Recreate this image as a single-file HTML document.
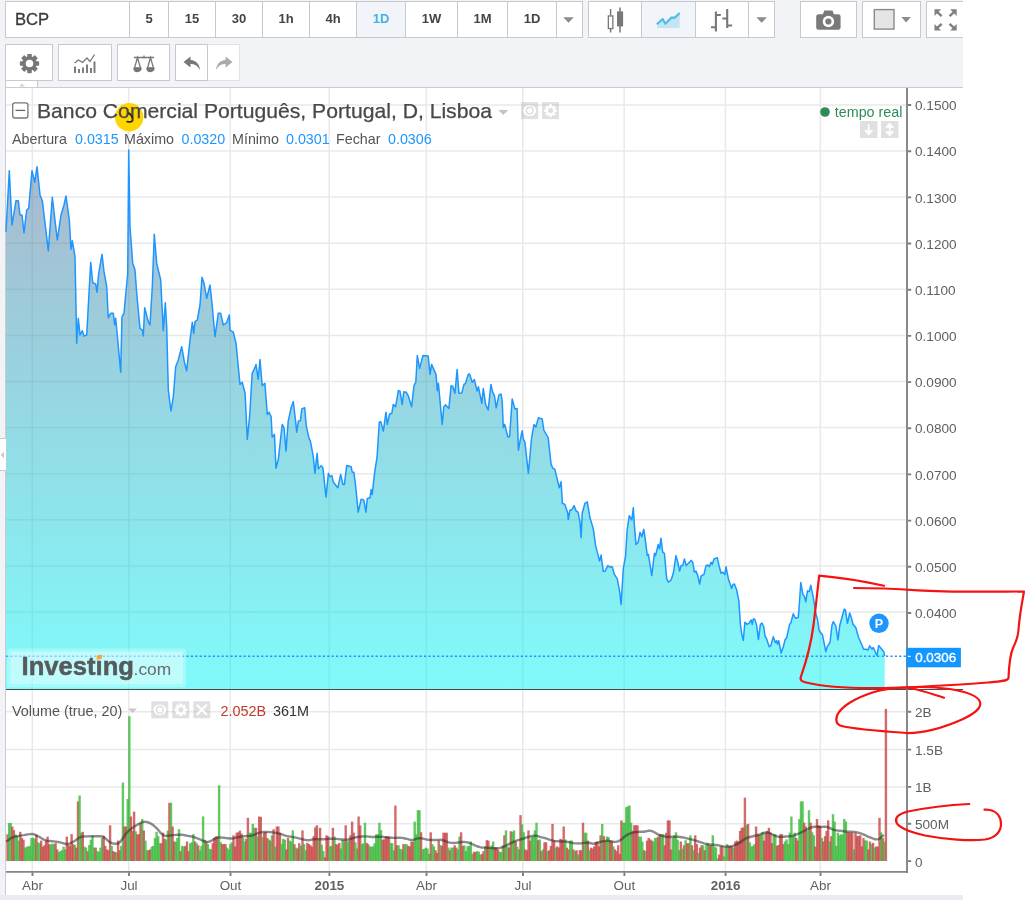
<!DOCTYPE html><html><head><meta charset="utf-8"><title>BCP</title><style>
*{box-sizing:border-box;margin:0;padding:0}
html,body{width:1025px;height:900px;background:#fff;overflow:hidden}
body{font-family:"Liberation Sans", Arial, sans-serif;position:relative;color:#444}
#page{position:absolute;left:0;top:0;width:963px;height:900px;background:#f1f3f7;overflow:hidden}
.box{position:absolute;background:#fff;border:1px solid #c8c9cd;height:37px;top:1px}
.cell{position:absolute;top:0;height:35px;border-left:1px solid #c8c9cd;text-align:center;font-weight:bold;font-size:13px;line-height:33px;color:#444}
.cell.first{border-left:none}
.cell.act{background:#f1f4f8;color:#3db4e6}
.r2{top:44px;height:37px}
#chartbg{position:absolute;left:5px;top:87px;width:958px;height:808px;background:#fff;border-top:1px solid #c9ccd1;border-left:1px solid #c9ccd1}
svg{position:absolute;left:0;top:0}
#main,#page{will-change:transform}
text{font-family:"Liberation Sans", Arial, sans-serif}
</style></head><body>
<div id="page">
<div class="box " style="left:5px;width:578px">
<div class="cell first" style="left:-1px;width:124px"><span style="position:absolute;left:10px;top:1px;font-weight:normal;font-size:16.600px;color:#3a3a3a;-webkit-text-stroke:0.300px #3a3a3a">BCP</span></div>
<div class="cell" style="left:123px;width:39px">5</div>
<div class="cell" style="left:162px;width:47px">15</div>
<div class="cell" style="left:209px;width:47px">30</div>
<div class="cell" style="left:256px;width:47px">1h</div>
<div class="cell" style="left:303px;width:47px">4h</div>
<div class="cell act" style="left:350px;width:49px">1D</div>
<div class="cell" style="left:399px;width:52px">1W</div>
<div class="cell" style="left:451px;width:50px">1M</div>
<div class="cell" style="left:501px;width:49px">1D</div>
<div class="cell" style="left:550px;width:27px"></div>
</div>
<div class="box " style="left:588px;width:187px">
<div class="cell first" style="left:-1px;width:53px"></div>
<div class="cell act" style="left:52px;width:54px"></div>
<div class="cell" style="left:106px;width:53px"></div>
<div class="cell" style="left:159px;width:27px"></div>
</div>
<div class="box " style="left:800px;width:57px">
<div class="cell first" style="left:-1px;width:57px"></div>
</div>
<div class="box " style="left:862px;width:59px">
<div class="cell first" style="left:-1px;width:59px"></div>
</div>
<div class="box " style="left:926px;width:64px">
<div class="cell first" style="left:-1px;width:64px"></div>
</div>
<div class="box r2" style="left:5px;width:48px"><svg width="21" height="21" viewBox="-12 -12 24 24" style="position:absolute;left:12.800px;top:8px"><g fill="#777"><rect x="-2.600" y="-11" width="5.200" height="22" rx="0.800" transform="rotate(0)"/><rect x="-2.600" y="-11" width="5.200" height="22" rx="0.800" transform="rotate(45)"/><rect x="-2.600" y="-11" width="5.200" height="22" rx="0.800" transform="rotate(90)"/><rect x="-2.600" y="-11" width="5.200" height="22" rx="0.800" transform="rotate(135)"/><circle r="8.200"/></g><circle r="4.300" fill="#fff"/></svg></div>
<div class="box r2" style="left:58px;width:54px"><svg width="24" height="22" viewBox="0 0 24 22" style="position:absolute;left:14px;top:8px"><path d="M1.500 10l4-3 4 2.500 4.500-4.500 3 3.500 4.500-7" fill="none" stroke="#777" stroke-width="1.300"/><path d="M2 13.500v6.500M6 16v4M10 14.500v5.500M14 11.500v8.500M18 15v5M21.500 8.500v11.500" stroke="#777" stroke-width="1.900"/></svg></div>
<div class="box r2" style="left:117px;width:53px"><svg width="24" height="20" viewBox="0 0 24 20" style="position:absolute;left:14px;top:9px" fill="none" stroke="#777" stroke-width="1.300"><path d="M2 3.500h20M12 1.500v3"/><path d="M5.500 3.500L2.500 14h6zM18.500 3.500L15.500 14h6z"/><path d="M2 14.500a3.500 3 0 0 0 7 0zM15 14.500a3.500 3 0 0 0 7 0z" fill="#777"/></svg></div>
<div class="box r2" style="left:207px;width:33px;border-color:#e0e2e6"><svg width="18" height="15" viewBox="0 0 18 15" style="position:absolute;left:7px;top:11px"><path d="M10.500 0.500L17.500 6l-7 5.500V8c-4 0-7 1.500-9.500 6 0.500-6 4-9.500 9.500-10z" fill="#aaa"/></svg></div>
<div class="box r2" style="left:175px;width:33px"><svg width="18" height="15" viewBox="0 0 18 15" style="position:absolute;left:7px;top:11px"><path d="M7.500 0.500L0.500 6l7 5.500V8c4 0 7 1.500 9.500 6-0.500-6-4-9.500-9.500-10z" fill="#777"/></svg></div>
<div style="position:absolute;left:5px;top:81px;width:33px;height:7px;background:#fff;border:1px solid #c8c9cd;border-top:none;border-bottom:none"></div>
<div id="chartbg"></div>
<div style="position:absolute;left:0;top:895px;width:963px;height:5px;background:#e9ebf0"></div>
<svg width="38" height="8" style="left:5px;top:81px"><path d="M14 5.500l3-3 3 3z" fill="#d4d4d4"/></svg>
<div style="position:absolute;left:0;top:438px;width:6px;height:33px;background:#fff;border-top:1px solid #c8c9cd;border-bottom:1px solid #c8c9cd"></div>
<svg width="6" height="10" style="left:0;top:450px"><path d="M0.800 5l3.200-3.200v6.400z" fill="#c8c8c8"/></svg>
</div>
<svg id="main" width="1025" height="900" viewBox="0 0 1025 900">
<defs><linearGradient id="ag" x1="0" y1="88" x2="0" y2="689" gradientUnits="userSpaceOnUse"><stop offset="0" stop-color="#606090"/><stop offset="1" stop-color="#01f6f5"/></linearGradient><clipPath id="cm"><rect x="6" y="88" width="901" height="601"/></clipPath></defs>
<path d="M32.3 88V871 M128.8 88V871 M230.3 88V871 M329.2 88V871 M426.3 88V871 M522.8 88V871 M624.2 88V871 M725.4 88V871 M820.3 88V871 M6 104.9H906 M6 151.0H906 M6 197.1H906 M6 243.2H906 M6 289.3H906 M6 335.4H906 M6 381.5H906 M6 427.6H906 M6 473.7H906 M6 519.8H906 M6 566.0H906 M6 612.1H906 M6 711.8H906 M6 749.6H906 M6 786.9H906 M6 823.7H906" stroke="#e9e9e9" stroke-width="1.500" fill="none"/>
<polygon points="6.0,689 6.0,231.7 9.3,170.7 12.0,225.0 16.0,200.7 18.3,200.7 20.0,215.0 22.0,215.0 24.0,232.7 26.7,210.0 28.7,208.3 32.0,170.7 34.7,182.3 37.0,166.7 40.0,195.0 42.3,200.7 48.3,250.7 52.3,197.3 57.3,240.0 61.0,215.0 64.0,205.0 66.0,196.0 69.3,220.0 71.0,249.3 72.3,240.7 75.0,256.7 76.7,343.3 78.3,318.3 80.0,335.0 82.3,330.7 84.0,336.0 86.7,335.0 90.7,262.3 92.7,282.7 95.7,284.0 97.0,292.3 98.7,273.3 102.0,254.3 104.0,271.7 106.7,286.7 108.3,317.7 110.7,313.3 113.3,313.3 114.7,325.0 115.7,318.3 120.7,372.3 122.0,316.7 124.0,313.3 127.7,273.3 128.7,150.0 130.0,226.7 132.7,263.3 135.0,270.0 136.7,293.3 140.0,328.3 142.3,330.0 143.3,336.0 144.7,307.7 148.3,321.7 150.0,325.0 152.3,286.7 154.3,234.3 156.7,263.3 160.7,280.0 163.3,330.7 165.3,302.7 166.7,326.7 168.3,390.0 171.0,411.0 173.3,396.7 175.7,366.7 178.3,360.0 181.7,346.7 184.3,361.7 186.7,370.7 190.0,340.0 192.3,322.3 193.7,333.3 195.0,321.7 197.3,320.0 200.0,305.0 202.0,277.3 204.0,283.3 206.7,298.3 210.0,285.0 212.0,303.3 215.0,336.7 218.3,313.3 220.7,313.3 223.3,325.0 226.7,322.7 229.3,315.0 230.0,330.0 233.3,332.2 236.0,343.3 240.0,384.4 242.2,382.2 245.1,393.3 247.3,439.3 249.6,416.7 252.2,373.3 254.4,368.9 256.0,364.4 258.2,379.3 260.0,359.6 262.2,385.6 264.9,383.3 267.3,414.4 268.9,412.2 271.1,416.7 272.2,437.1 274.4,434.4 276.0,468.2 278.4,458.9 282.2,424.4 284.0,427.8 286.0,451.1 288.2,421.1 291.1,407.8 293.3,401.6 295.6,421.1 296.7,432.2 298.4,421.1 300.4,420.7 301.8,408.9 304.7,407.8 306.2,425.6 308.9,437.8 310.4,441.1 313.3,456.7 314.9,473.3 317.1,453.3 318.4,468.9 321.1,465.6 322.9,467.8 326.0,497.1 328.4,473.3 330.0,476.7 331.8,475.6 333.3,482.2 337.8,487.8 340.7,474.4 342.9,484.4 344.4,484.4 346.7,465.6 351.1,466.7 352.2,472.2 353.8,472.2 355.6,485.6 358.2,512.2 361.1,499.3 363.8,500.0 366.0,512.2 367.3,498.4 370.0,497.8 371.1,489.6 372.2,494.4 374.4,474.4 377.1,456.7 379.3,422.2 380.7,421.6 383.3,431.1 386.0,412.2 387.3,424.4 389.6,414.0 391.8,413.3 393.3,404.4 395.6,406.7 398.4,390.4 400.0,391.1 402.2,404.4 403.8,391.8 406.2,392.2 408.4,396.2 411.6,406.7 414.0,385.6 415.8,382.2 417.3,355.6 419.6,368.4 422.9,355.6 428.2,356.0 430.0,374.4 431.6,364.4 436.0,374.4 437.3,390.7 438.4,383.3 442.2,424.4 443.8,406.7 445.6,404.9 448.9,408.4 451.1,385.6 452.7,386.2 454.9,393.3 457.1,369.6 458.9,393.3 461.8,392.9 464.0,384.4 465.6,383.3 468.2,374.4 469.6,374.0 472.2,382.2 474.4,379.6 477.1,391.1 478.4,386.7 481.8,403.3 483.3,388.4 485.6,404.4 488.2,410.0 490.9,384.4 492.7,392.2 494.4,395.6 496.2,407.8 498.9,395.1 501.1,394.0 502.2,401.1 503.3,427.8 504.7,424.4 507.8,436.7 509.6,436.7 512.2,398.9 514.9,408.9 517.1,408.4 518.4,450.0 520.7,437.8 522.2,430.7 523.3,438.9 524.9,442.2 528.4,473.3 531.6,437.8 534.0,424.4 535.8,427.1 538.4,417.8 542.2,418.9 543.8,430.0 548.2,437.8 551.1,464.4 552.9,468.4 554.9,469.3 559.3,487.8 561.1,481.8 562.4,503.3 564.9,504.4 567.8,513.3 568.2,519.6 570.0,510.0 571.8,510.0 574.0,505.6 576.2,511.1 578.0,512.2 580.0,522.2 581.1,537.8 582.2,513.3 584.9,503.3 587.3,501.8 590.0,517.8 593.3,528.9 595.6,545.6 599.6,561.1 601.1,555.1 603.3,571.6 605.1,571.1 607.8,565.6 610.0,567.1 612.2,566.7 614.4,574.4 617.3,578.9 619.6,591.1 621.1,604.4 623.3,568.9 625.6,555.6 627.1,530.0 629.3,515.6 631.8,520.0 633.3,507.8 634.4,525.6 636.0,544.4 638.2,542.2 640.0,532.2 641.8,536.7 643.8,529.3 645.6,542.2 647.3,555.6 648.4,554.4 651.8,575.6 654.4,553.3 655.6,555.6 658.2,544.4 659.6,548.9 660.9,538.2 662.7,552.2 664.4,553.3 666.7,578.9 668.4,582.2 671.1,580.0 673.3,573.3 676.0,555.6 677.8,562.2 679.6,571.1 681.1,565.6 682.7,565.6 684.4,558.9 686.2,565.6 691.1,560.4 692.7,562.2 694.4,572.2 696.0,571.1 697.8,575.6 699.6,584.0 701.1,576.0 704.0,574.4 706.0,565.6 707.8,564.9 709.3,566.7 711.1,562.2 712.2,564.4 714.0,558.9 717.3,557.8 719.6,567.8 721.1,573.3 722.9,572.2 724.9,574.4 726.0,566.7 728.4,578.9 731.6,588.4 732.9,584.4 734.4,584.0 736.7,590.0 738.9,601.1 740.4,624.4 741.8,634.4 743.3,640.4 744.9,622.2 747.1,624.4 748.9,623.3 751.1,620.0 752.2,624.4 753.3,618.9 754.7,618.9 756.7,625.6 758.4,639.6 760.4,624.4 762.0,623.0 763.7,626.7 765.0,635.8 766.7,639.2 769.2,646.7 770.8,645.8 773.3,636.7 775.3,642.5 776.7,640.8 777.5,644.2 778.7,640.8 781.2,653.0 783.3,646.7 785.0,640.0 786.7,637.5 789.7,624.2 790.8,623.0 793.3,613.7 795.3,618.3 798.3,617.5 799.5,601.7 800.8,582.5 803.0,595.0 804.2,595.8 805.8,601.7 807.5,590.8 809.2,591.7 810.8,585.3 813.3,597.5 815.8,613.3 817.5,619.2 819.2,630.8 822.5,635.0 825.8,651.7 827.2,646.7 830.0,642.5 832.0,625.0 833.3,621.7 835.8,625.8 838.0,640.0 839.7,625.8 841.7,618.3 844.2,609.2 845.3,609.7 847.5,623.3 849.7,613.0 851.3,617.5 853.0,624.2 855.8,627.5 858.3,636.7 860.8,642.5 863.7,649.2 865.8,649.2 868.0,650.0 869.7,645.8 872.0,649.2 873.3,647.5 877.0,655.8 878.7,645.5 881.7,649.2 883.7,651.7 884.7,656.2 884.7,689" fill="url(#ag)" fill-opacity="0.5"/>
<polyline points="6.0,231.7 9.3,170.7 12.0,225.0 16.0,200.7 18.3,200.7 20.0,215.0 22.0,215.0 24.0,232.7 26.7,210.0 28.7,208.3 32.0,170.7 34.7,182.3 37.0,166.7 40.0,195.0 42.3,200.7 48.3,250.7 52.3,197.3 57.3,240.0 61.0,215.0 64.0,205.0 66.0,196.0 69.3,220.0 71.0,249.3 72.3,240.7 75.0,256.7 76.7,343.3 78.3,318.3 80.0,335.0 82.3,330.7 84.0,336.0 86.7,335.0 90.7,262.3 92.7,282.7 95.7,284.0 97.0,292.3 98.7,273.3 102.0,254.3 104.0,271.7 106.7,286.7 108.3,317.7 110.7,313.3 113.3,313.3 114.7,325.0 115.7,318.3 120.7,372.3 122.0,316.7 124.0,313.3 127.7,273.3 128.7,150.0 130.0,226.7 132.7,263.3 135.0,270.0 136.7,293.3 140.0,328.3 142.3,330.0 143.3,336.0 144.7,307.7 148.3,321.7 150.0,325.0 152.3,286.7 154.3,234.3 156.7,263.3 160.7,280.0 163.3,330.7 165.3,302.7 166.7,326.7 168.3,390.0 171.0,411.0 173.3,396.7 175.7,366.7 178.3,360.0 181.7,346.7 184.3,361.7 186.7,370.7 190.0,340.0 192.3,322.3 193.7,333.3 195.0,321.7 197.3,320.0 200.0,305.0 202.0,277.3 204.0,283.3 206.7,298.3 210.0,285.0 212.0,303.3 215.0,336.7 218.3,313.3 220.7,313.3 223.3,325.0 226.7,322.7 229.3,315.0 230.0,330.0 233.3,332.2 236.0,343.3 240.0,384.4 242.2,382.2 245.1,393.3 247.3,439.3 249.6,416.7 252.2,373.3 254.4,368.9 256.0,364.4 258.2,379.3 260.0,359.6 262.2,385.6 264.9,383.3 267.3,414.4 268.9,412.2 271.1,416.7 272.2,437.1 274.4,434.4 276.0,468.2 278.4,458.9 282.2,424.4 284.0,427.8 286.0,451.1 288.2,421.1 291.1,407.8 293.3,401.6 295.6,421.1 296.7,432.2 298.4,421.1 300.4,420.7 301.8,408.9 304.7,407.8 306.2,425.6 308.9,437.8 310.4,441.1 313.3,456.7 314.9,473.3 317.1,453.3 318.4,468.9 321.1,465.6 322.9,467.8 326.0,497.1 328.4,473.3 330.0,476.7 331.8,475.6 333.3,482.2 337.8,487.8 340.7,474.4 342.9,484.4 344.4,484.4 346.7,465.6 351.1,466.7 352.2,472.2 353.8,472.2 355.6,485.6 358.2,512.2 361.1,499.3 363.8,500.0 366.0,512.2 367.3,498.4 370.0,497.8 371.1,489.6 372.2,494.4 374.4,474.4 377.1,456.7 379.3,422.2 380.7,421.6 383.3,431.1 386.0,412.2 387.3,424.4 389.6,414.0 391.8,413.3 393.3,404.4 395.6,406.7 398.4,390.4 400.0,391.1 402.2,404.4 403.8,391.8 406.2,392.2 408.4,396.2 411.6,406.7 414.0,385.6 415.8,382.2 417.3,355.6 419.6,368.4 422.9,355.6 428.2,356.0 430.0,374.4 431.6,364.4 436.0,374.4 437.3,390.7 438.4,383.3 442.2,424.4 443.8,406.7 445.6,404.9 448.9,408.4 451.1,385.6 452.7,386.2 454.9,393.3 457.1,369.6 458.9,393.3 461.8,392.9 464.0,384.4 465.6,383.3 468.2,374.4 469.6,374.0 472.2,382.2 474.4,379.6 477.1,391.1 478.4,386.7 481.8,403.3 483.3,388.4 485.6,404.4 488.2,410.0 490.9,384.4 492.7,392.2 494.4,395.6 496.2,407.8 498.9,395.1 501.1,394.0 502.2,401.1 503.3,427.8 504.7,424.4 507.8,436.7 509.6,436.7 512.2,398.9 514.9,408.9 517.1,408.4 518.4,450.0 520.7,437.8 522.2,430.7 523.3,438.9 524.9,442.2 528.4,473.3 531.6,437.8 534.0,424.4 535.8,427.1 538.4,417.8 542.2,418.9 543.8,430.0 548.2,437.8 551.1,464.4 552.9,468.4 554.9,469.3 559.3,487.8 561.1,481.8 562.4,503.3 564.9,504.4 567.8,513.3 568.2,519.6 570.0,510.0 571.8,510.0 574.0,505.6 576.2,511.1 578.0,512.2 580.0,522.2 581.1,537.8 582.2,513.3 584.9,503.3 587.3,501.8 590.0,517.8 593.3,528.9 595.6,545.6 599.6,561.1 601.1,555.1 603.3,571.6 605.1,571.1 607.8,565.6 610.0,567.1 612.2,566.7 614.4,574.4 617.3,578.9 619.6,591.1 621.1,604.4 623.3,568.9 625.6,555.6 627.1,530.0 629.3,515.6 631.8,520.0 633.3,507.8 634.4,525.6 636.0,544.4 638.2,542.2 640.0,532.2 641.8,536.7 643.8,529.3 645.6,542.2 647.3,555.6 648.4,554.4 651.8,575.6 654.4,553.3 655.6,555.6 658.2,544.4 659.6,548.9 660.9,538.2 662.7,552.2 664.4,553.3 666.7,578.9 668.4,582.2 671.1,580.0 673.3,573.3 676.0,555.6 677.8,562.2 679.6,571.1 681.1,565.6 682.7,565.6 684.4,558.9 686.2,565.6 691.1,560.4 692.7,562.2 694.4,572.2 696.0,571.1 697.8,575.6 699.6,584.0 701.1,576.0 704.0,574.4 706.0,565.6 707.8,564.9 709.3,566.7 711.1,562.2 712.2,564.4 714.0,558.9 717.3,557.8 719.6,567.8 721.1,573.3 722.9,572.2 724.9,574.4 726.0,566.7 728.4,578.9 731.6,588.4 732.9,584.4 734.4,584.0 736.7,590.0 738.9,601.1 740.4,624.4 741.8,634.4 743.3,640.4 744.9,622.2 747.1,624.4 748.9,623.3 751.1,620.0 752.2,624.4 753.3,618.9 754.7,618.9 756.7,625.6 758.4,639.6 760.4,624.4 762.0,623.0 763.7,626.7 765.0,635.8 766.7,639.2 769.2,646.7 770.8,645.8 773.3,636.7 775.3,642.5 776.7,640.8 777.5,644.2 778.7,640.8 781.2,653.0 783.3,646.7 785.0,640.0 786.7,637.5 789.7,624.2 790.8,623.0 793.3,613.7 795.3,618.3 798.3,617.5 799.5,601.7 800.8,582.5 803.0,595.0 804.2,595.8 805.8,601.7 807.5,590.8 809.2,591.7 810.8,585.3 813.3,597.5 815.8,613.3 817.5,619.2 819.2,630.8 822.5,635.0 825.8,651.7 827.2,646.7 830.0,642.5 832.0,625.0 833.3,621.7 835.8,625.8 838.0,640.0 839.7,625.8 841.7,618.3 844.2,609.2 845.3,609.7 847.5,623.3 849.7,613.0 851.3,617.5 853.0,624.2 855.8,627.5 858.3,636.7 860.8,642.5 863.7,649.2 865.8,649.2 868.0,650.0 869.7,645.8 872.0,649.2 873.3,647.5 877.0,655.8 878.7,645.5 881.7,649.2 883.7,651.7 884.7,656.2" fill="none" stroke="#1e96ff" stroke-width="1.500" stroke-linejoin="round"/>
<path d="M6 656.300H907" stroke="#1e96ff" stroke-width="1.400" stroke-dasharray="2.200 2.200" fill="none"/>
<rect x="7" y="648.500" width="179" height="39" rx="3" fill="#fff" fill-opacity="0.280"/>
<rect x="10.500" y="651.500" width="172.500" height="32.500" rx="1" fill="#fff" fill-opacity="0.300"/>
<text x="21.600" y="675.300" font-size="25.600" font-weight="bold" fill="#565a5c" stroke="#565a5c" stroke-width="0.550" textLength="112.400" lengthAdjust="spacingAndGlyphs">Investing</text>
<text x="133.600" y="675.300" font-size="17.200" fill="#666c6e" textLength="37.600" lengthAdjust="spacingAndGlyphs">.com</text>
<path d="M96.700 655.900L101.900 654.200V658.700L96.700 659.900z" fill="#f4a83a"/>
<rect x="6.3" y="834.4" width="2.400" height="26.6" fill="#c84646" fill-opacity="0.800"/>
<rect x="7.9" y="823.0" width="2.400" height="38.0" fill="#3cb93c" fill-opacity="0.800"/>
<rect x="9.5" y="823.0" width="2.400" height="38.0" fill="#3cb93c" fill-opacity="0.800"/>
<rect x="11.1" y="826.5" width="2.400" height="34.5" fill="#c84646" fill-opacity="0.800"/>
<rect x="12.7" y="830.1" width="2.400" height="30.9" fill="#c84646" fill-opacity="0.800"/>
<rect x="14.3" y="834.4" width="2.400" height="26.6" fill="#3cb93c" fill-opacity="0.800"/>
<rect x="15.9" y="835.8" width="2.400" height="25.2" fill="#3cb93c" fill-opacity="0.800"/>
<rect x="17.5" y="840.6" width="2.400" height="20.4" fill="#3cb93c" fill-opacity="0.800"/>
<rect x="19.1" y="831.8" width="2.400" height="29.2" fill="#c84646" fill-opacity="0.800"/>
<rect x="20.7" y="838.0" width="2.400" height="23.0" fill="#c84646" fill-opacity="0.800"/>
<rect x="22.3" y="839.7" width="2.400" height="21.3" fill="#c84646" fill-opacity="0.800"/>
<rect x="23.9" y="847.6" width="2.400" height="13.4" fill="#3cb93c" fill-opacity="0.800"/>
<rect x="25.5" y="846.7" width="2.400" height="14.3" fill="#3cb93c" fill-opacity="0.800"/>
<rect x="27.1" y="846.4" width="2.400" height="14.6" fill="#3cb93c" fill-opacity="0.800"/>
<rect x="28.7" y="845.9" width="2.400" height="15.1" fill="#3cb93c" fill-opacity="0.800"/>
<rect x="30.3" y="838.0" width="2.400" height="23.0" fill="#3cb93c" fill-opacity="0.800"/>
<rect x="31.9" y="837.6" width="2.400" height="23.4" fill="#3cb93c" fill-opacity="0.800"/>
<rect x="33.6" y="838.8" width="2.400" height="22.2" fill="#3cb93c" fill-opacity="0.800"/>
<rect x="35.2" y="834.8" width="2.400" height="26.2" fill="#c84646" fill-opacity="0.800"/>
<rect x="36.8" y="842.3" width="2.400" height="18.7" fill="#3cb93c" fill-opacity="0.800"/>
<rect x="38.4" y="843.2" width="2.400" height="17.8" fill="#3cb93c" fill-opacity="0.800"/>
<rect x="40.0" y="840.6" width="2.400" height="20.4" fill="#c84646" fill-opacity="0.800"/>
<rect x="41.6" y="846.7" width="2.400" height="14.3" fill="#c84646" fill-opacity="0.800"/>
<rect x="43.2" y="845.3" width="2.400" height="15.7" fill="#c84646" fill-opacity="0.800"/>
<rect x="44.8" y="840.6" width="2.400" height="20.4" fill="#c84646" fill-opacity="0.800"/>
<rect x="46.4" y="836.6" width="2.400" height="24.4" fill="#c84646" fill-opacity="0.800"/>
<rect x="48.0" y="844.1" width="2.400" height="16.9" fill="#c84646" fill-opacity="0.800"/>
<rect x="49.6" y="844.6" width="2.400" height="16.4" fill="#3cb93c" fill-opacity="0.800"/>
<rect x="51.2" y="843.6" width="2.400" height="17.4" fill="#3cb93c" fill-opacity="0.800"/>
<rect x="52.8" y="844.1" width="2.400" height="16.9" fill="#3cb93c" fill-opacity="0.800"/>
<rect x="54.4" y="843.2" width="2.400" height="17.8" fill="#c84646" fill-opacity="0.800"/>
<rect x="56.0" y="849.4" width="2.400" height="11.6" fill="#c84646" fill-opacity="0.800"/>
<rect x="57.6" y="852.0" width="2.400" height="9.0" fill="#3cb93c" fill-opacity="0.800"/>
<rect x="59.2" y="851.1" width="2.400" height="9.9" fill="#3cb93c" fill-opacity="0.800"/>
<rect x="60.8" y="850.2" width="2.400" height="10.8" fill="#3cb93c" fill-opacity="0.800"/>
<rect x="62.4" y="846.7" width="2.400" height="14.3" fill="#3cb93c" fill-opacity="0.800"/>
<rect x="64.0" y="849.4" width="2.400" height="11.6" fill="#3cb93c" fill-opacity="0.800"/>
<rect x="65.6" y="836.6" width="2.400" height="24.4" fill="#c84646" fill-opacity="0.800"/>
<rect x="67.2" y="845.0" width="2.400" height="16.0" fill="#c84646" fill-opacity="0.800"/>
<rect x="68.8" y="845.9" width="2.400" height="15.1" fill="#c84646" fill-opacity="0.800"/>
<rect x="70.4" y="834.1" width="2.400" height="26.9" fill="#c84646" fill-opacity="0.800"/>
<rect x="72.0" y="844.1" width="2.400" height="16.9" fill="#c84646" fill-opacity="0.800"/>
<rect x="73.6" y="845.0" width="2.400" height="16.0" fill="#3cb93c" fill-opacity="0.800"/>
<rect x="75.2" y="847.6" width="2.400" height="13.4" fill="#c84646" fill-opacity="0.800"/>
<rect x="76.8" y="801.4" width="2.400" height="59.6" fill="#c84646" fill-opacity="0.800"/>
<rect x="78.4" y="795.5" width="2.400" height="65.5" fill="#3cb93c" fill-opacity="0.800"/>
<rect x="80.0" y="832.7" width="2.400" height="28.3" fill="#3cb93c" fill-opacity="0.800"/>
<rect x="81.6" y="831.8" width="2.400" height="29.2" fill="#c84646" fill-opacity="0.800"/>
<rect x="83.2" y="846.7" width="2.400" height="14.3" fill="#3cb93c" fill-opacity="0.800"/>
<rect x="84.8" y="847.6" width="2.400" height="13.4" fill="#3cb93c" fill-opacity="0.800"/>
<rect x="86.5" y="851.1" width="2.400" height="9.9" fill="#c84646" fill-opacity="0.800"/>
<rect x="88.1" y="845.0" width="2.400" height="16.0" fill="#3cb93c" fill-opacity="0.800"/>
<rect x="89.7" y="839.7" width="2.400" height="21.3" fill="#3cb93c" fill-opacity="0.800"/>
<rect x="91.3" y="835.8" width="2.400" height="25.2" fill="#3cb93c" fill-opacity="0.800"/>
<rect x="92.9" y="847.6" width="2.400" height="13.4" fill="#3cb93c" fill-opacity="0.800"/>
<rect x="94.5" y="847.6" width="2.400" height="13.4" fill="#c84646" fill-opacity="0.800"/>
<rect x="96.1" y="851.1" width="2.400" height="9.9" fill="#3cb93c" fill-opacity="0.800"/>
<rect x="97.7" y="851.7" width="2.400" height="9.3" fill="#3cb93c" fill-opacity="0.800"/>
<rect x="99.3" y="847.6" width="2.400" height="13.4" fill="#3cb93c" fill-opacity="0.800"/>
<rect x="100.9" y="838.0" width="2.400" height="23.0" fill="#3cb93c" fill-opacity="0.800"/>
<rect x="102.5" y="835.8" width="2.400" height="25.2" fill="#c84646" fill-opacity="0.800"/>
<rect x="104.1" y="845.9" width="2.400" height="15.1" fill="#c84646" fill-opacity="0.800"/>
<rect x="105.7" y="849.4" width="2.400" height="11.6" fill="#c84646" fill-opacity="0.800"/>
<rect x="107.3" y="850.2" width="2.400" height="10.8" fill="#c84646" fill-opacity="0.800"/>
<rect x="108.9" y="825.3" width="2.400" height="35.7" fill="#c84646" fill-opacity="0.800"/>
<rect x="110.5" y="845.9" width="2.400" height="15.1" fill="#3cb93c" fill-opacity="0.800"/>
<rect x="112.1" y="851.1" width="2.400" height="9.9" fill="#c84646" fill-opacity="0.800"/>
<rect x="113.7" y="852.0" width="2.400" height="9.0" fill="#c84646" fill-opacity="0.800"/>
<rect x="115.3" y="852.4" width="2.400" height="8.6" fill="#3cb93c" fill-opacity="0.800"/>
<rect x="116.9" y="840.6" width="2.400" height="20.4" fill="#c84646" fill-opacity="0.800"/>
<rect x="118.5" y="850.2" width="2.400" height="10.8" fill="#c84646" fill-opacity="0.800"/>
<rect x="120.1" y="845.9" width="2.400" height="15.1" fill="#3cb93c" fill-opacity="0.800"/>
<rect x="121.7" y="782.6" width="2.400" height="78.4" fill="#3cb93c" fill-opacity="0.800"/>
<rect x="123.3" y="826.5" width="2.400" height="34.5" fill="#c84646" fill-opacity="0.800"/>
<rect x="124.9" y="826.5" width="2.400" height="34.5" fill="#c84646" fill-opacity="0.800"/>
<rect x="126.5" y="799.0" width="2.400" height="62.0" fill="#3cb93c" fill-opacity="0.800"/>
<rect x="128.1" y="716.2" width="2.400" height="144.8" fill="#3cb93c" fill-opacity="0.800"/>
<rect x="129.7" y="816.5" width="2.400" height="44.5" fill="#c84646" fill-opacity="0.800"/>
<rect x="131.3" y="830.9" width="2.400" height="30.1" fill="#c84646" fill-opacity="0.800"/>
<rect x="132.9" y="811.6" width="2.400" height="49.4" fill="#c84646" fill-opacity="0.800"/>
<rect x="134.5" y="831.3" width="2.400" height="29.7" fill="#3cb93c" fill-opacity="0.800"/>
<rect x="136.1" y="834.4" width="2.400" height="26.6" fill="#c84646" fill-opacity="0.800"/>
<rect x="137.7" y="834.1" width="2.400" height="26.9" fill="#c84646" fill-opacity="0.800"/>
<rect x="139.3" y="823.0" width="2.400" height="38.0" fill="#c84646" fill-opacity="0.800"/>
<rect x="141.0" y="819.0" width="2.400" height="42.0" fill="#3cb93c" fill-opacity="0.800"/>
<rect x="142.6" y="830.4" width="2.400" height="30.6" fill="#c84646" fill-opacity="0.800"/>
<rect x="144.2" y="840.6" width="2.400" height="20.4" fill="#3cb93c" fill-opacity="0.800"/>
<rect x="145.8" y="850.2" width="2.400" height="10.8" fill="#3cb93c" fill-opacity="0.800"/>
<rect x="147.4" y="850.2" width="2.400" height="10.8" fill="#c84646" fill-opacity="0.800"/>
<rect x="149.0" y="849.4" width="2.400" height="11.6" fill="#c84646" fill-opacity="0.800"/>
<rect x="150.6" y="846.7" width="2.400" height="14.3" fill="#3cb93c" fill-opacity="0.800"/>
<rect x="152.2" y="845.9" width="2.400" height="15.1" fill="#3cb93c" fill-opacity="0.800"/>
<rect x="153.8" y="838.0" width="2.400" height="23.0" fill="#3cb93c" fill-opacity="0.800"/>
<rect x="155.4" y="831.8" width="2.400" height="29.2" fill="#3cb93c" fill-opacity="0.800"/>
<rect x="157.0" y="836.2" width="2.400" height="24.8" fill="#3cb93c" fill-opacity="0.800"/>
<rect x="158.6" y="843.2" width="2.400" height="17.8" fill="#3cb93c" fill-opacity="0.800"/>
<rect x="160.2" y="843.2" width="2.400" height="17.8" fill="#c84646" fill-opacity="0.800"/>
<rect x="161.8" y="832.7" width="2.400" height="28.3" fill="#c84646" fill-opacity="0.800"/>
<rect x="163.4" y="838.8" width="2.400" height="22.2" fill="#c84646" fill-opacity="0.800"/>
<rect x="165.0" y="839.7" width="2.400" height="21.3" fill="#3cb93c" fill-opacity="0.800"/>
<rect x="166.6" y="830.6" width="2.400" height="30.4" fill="#3cb93c" fill-opacity="0.800"/>
<rect x="168.2" y="802.8" width="2.400" height="58.2" fill="#c84646" fill-opacity="0.800"/>
<rect x="169.8" y="802.8" width="2.400" height="58.2" fill="#3cb93c" fill-opacity="0.800"/>
<rect x="171.4" y="826.5" width="2.400" height="34.5" fill="#c84646" fill-opacity="0.800"/>
<rect x="173.0" y="841.5" width="2.400" height="19.5" fill="#c84646" fill-opacity="0.800"/>
<rect x="174.6" y="841.8" width="2.400" height="19.2" fill="#3cb93c" fill-opacity="0.800"/>
<rect x="176.2" y="838.0" width="2.400" height="23.0" fill="#3cb93c" fill-opacity="0.800"/>
<rect x="177.8" y="829.2" width="2.400" height="31.8" fill="#3cb93c" fill-opacity="0.800"/>
<rect x="179.4" y="851.1" width="2.400" height="9.9" fill="#c84646" fill-opacity="0.800"/>
<rect x="181.0" y="845.9" width="2.400" height="15.1" fill="#3cb93c" fill-opacity="0.800"/>
<rect x="182.6" y="846.7" width="2.400" height="14.3" fill="#3cb93c" fill-opacity="0.800"/>
<rect x="184.2" y="845.9" width="2.400" height="15.1" fill="#c84646" fill-opacity="0.800"/>
<rect x="185.8" y="841.5" width="2.400" height="19.5" fill="#c84646" fill-opacity="0.800"/>
<rect x="187.4" y="851.1" width="2.400" height="9.9" fill="#c84646" fill-opacity="0.800"/>
<rect x="189.0" y="843.2" width="2.400" height="17.8" fill="#3cb93c" fill-opacity="0.800"/>
<rect x="190.6" y="842.3" width="2.400" height="18.7" fill="#3cb93c" fill-opacity="0.800"/>
<rect x="192.2" y="834.1" width="2.400" height="26.9" fill="#3cb93c" fill-opacity="0.800"/>
<rect x="193.9" y="841.5" width="2.400" height="19.5" fill="#c84646" fill-opacity="0.800"/>
<rect x="195.5" y="843.2" width="2.400" height="17.8" fill="#3cb93c" fill-opacity="0.800"/>
<rect x="197.1" y="845.3" width="2.400" height="15.7" fill="#c84646" fill-opacity="0.800"/>
<rect x="198.7" y="850.2" width="2.400" height="10.8" fill="#3cb93c" fill-opacity="0.800"/>
<rect x="200.3" y="845.9" width="2.400" height="15.1" fill="#3cb93c" fill-opacity="0.800"/>
<rect x="201.9" y="816.4" width="2.400" height="44.6" fill="#3cb93c" fill-opacity="0.800"/>
<rect x="203.5" y="839.7" width="2.400" height="21.3" fill="#3cb93c" fill-opacity="0.800"/>
<rect x="205.1" y="841.8" width="2.400" height="19.2" fill="#c84646" fill-opacity="0.800"/>
<rect x="206.7" y="844.1" width="2.400" height="16.9" fill="#3cb93c" fill-opacity="0.800"/>
<rect x="208.3" y="848.8" width="2.400" height="12.2" fill="#3cb93c" fill-opacity="0.800"/>
<rect x="209.9" y="849.4" width="2.400" height="11.6" fill="#3cb93c" fill-opacity="0.800"/>
<rect x="211.5" y="843.2" width="2.400" height="17.8" fill="#c84646" fill-opacity="0.800"/>
<rect x="213.1" y="838.0" width="2.400" height="23.0" fill="#c84646" fill-opacity="0.800"/>
<rect x="214.7" y="836.6" width="2.400" height="24.4" fill="#c84646" fill-opacity="0.800"/>
<rect x="216.3" y="836.6" width="2.400" height="24.4" fill="#c84646" fill-opacity="0.800"/>
<rect x="217.9" y="785.3" width="2.400" height="75.7" fill="#3cb93c" fill-opacity="0.800"/>
<rect x="219.5" y="842.3" width="2.400" height="18.7" fill="#3cb93c" fill-opacity="0.800"/>
<rect x="221.1" y="844.1" width="2.400" height="16.9" fill="#c84646" fill-opacity="0.800"/>
<rect x="222.7" y="844.1" width="2.400" height="16.9" fill="#c84646" fill-opacity="0.800"/>
<rect x="224.3" y="844.1" width="2.400" height="16.9" fill="#c84646" fill-opacity="0.800"/>
<rect x="225.9" y="847.6" width="2.400" height="13.4" fill="#3cb93c" fill-opacity="0.800"/>
<rect x="227.5" y="849.4" width="2.400" height="11.6" fill="#3cb93c" fill-opacity="0.800"/>
<rect x="229.1" y="844.1" width="2.400" height="16.9" fill="#3cb93c" fill-opacity="0.800"/>
<rect x="230.7" y="842.3" width="2.400" height="18.7" fill="#3cb93c" fill-opacity="0.800"/>
<rect x="232.3" y="835.3" width="2.400" height="25.7" fill="#c84646" fill-opacity="0.800"/>
<rect x="233.9" y="846.4" width="2.400" height="14.6" fill="#c84646" fill-opacity="0.800"/>
<rect x="235.5" y="832.7" width="2.400" height="28.3" fill="#c84646" fill-opacity="0.800"/>
<rect x="237.1" y="832.3" width="2.400" height="28.7" fill="#c84646" fill-opacity="0.800"/>
<rect x="238.7" y="830.6" width="2.400" height="30.4" fill="#c84646" fill-opacity="0.800"/>
<rect x="240.3" y="833.6" width="2.400" height="27.4" fill="#c84646" fill-opacity="0.800"/>
<rect x="241.9" y="838.0" width="2.400" height="23.0" fill="#3cb93c" fill-opacity="0.800"/>
<rect x="243.5" y="841.5" width="2.400" height="19.5" fill="#3cb93c" fill-opacity="0.800"/>
<rect x="245.1" y="838.8" width="2.400" height="22.2" fill="#c84646" fill-opacity="0.800"/>
<rect x="246.7" y="817.8" width="2.400" height="43.2" fill="#c84646" fill-opacity="0.800"/>
<rect x="248.4" y="832.7" width="2.400" height="28.3" fill="#3cb93c" fill-opacity="0.800"/>
<rect x="250.0" y="832.7" width="2.400" height="28.3" fill="#3cb93c" fill-opacity="0.800"/>
<rect x="251.6" y="823.9" width="2.400" height="37.1" fill="#3cb93c" fill-opacity="0.800"/>
<rect x="253.2" y="827.8" width="2.400" height="33.2" fill="#3cb93c" fill-opacity="0.800"/>
<rect x="254.8" y="827.8" width="2.400" height="33.2" fill="#c84646" fill-opacity="0.800"/>
<rect x="256.4" y="836.2" width="2.400" height="24.8" fill="#3cb93c" fill-opacity="0.800"/>
<rect x="258.0" y="816.5" width="2.400" height="44.5" fill="#c84646" fill-opacity="0.800"/>
<rect x="259.6" y="816.9" width="2.400" height="44.1" fill="#c84646" fill-opacity="0.800"/>
<rect x="261.2" y="837.1" width="2.400" height="23.9" fill="#3cb93c" fill-opacity="0.800"/>
<rect x="262.8" y="832.7" width="2.400" height="28.3" fill="#c84646" fill-opacity="0.800"/>
<rect x="264.4" y="831.8" width="2.400" height="29.2" fill="#c84646" fill-opacity="0.800"/>
<rect x="266.0" y="838.0" width="2.400" height="23.0" fill="#c84646" fill-opacity="0.800"/>
<rect x="267.6" y="839.4" width="2.400" height="21.6" fill="#3cb93c" fill-opacity="0.800"/>
<rect x="269.2" y="840.6" width="2.400" height="20.4" fill="#c84646" fill-opacity="0.800"/>
<rect x="270.8" y="835.3" width="2.400" height="25.7" fill="#3cb93c" fill-opacity="0.800"/>
<rect x="272.4" y="829.2" width="2.400" height="31.8" fill="#c84646" fill-opacity="0.800"/>
<rect x="274.0" y="846.7" width="2.400" height="14.3" fill="#3cb93c" fill-opacity="0.800"/>
<rect x="275.6" y="826.5" width="2.400" height="34.5" fill="#c84646" fill-opacity="0.800"/>
<rect x="277.2" y="826.5" width="2.400" height="34.5" fill="#c84646" fill-opacity="0.800"/>
<rect x="278.8" y="832.7" width="2.400" height="28.3" fill="#c84646" fill-opacity="0.800"/>
<rect x="280.4" y="844.1" width="2.400" height="16.9" fill="#3cb93c" fill-opacity="0.800"/>
<rect x="282.0" y="838.8" width="2.400" height="22.2" fill="#3cb93c" fill-opacity="0.800"/>
<rect x="283.6" y="839.7" width="2.400" height="21.3" fill="#3cb93c" fill-opacity="0.800"/>
<rect x="285.2" y="849.4" width="2.400" height="11.6" fill="#c84646" fill-opacity="0.800"/>
<rect x="286.8" y="838.0" width="2.400" height="23.0" fill="#c84646" fill-opacity="0.800"/>
<rect x="288.4" y="840.6" width="2.400" height="20.4" fill="#3cb93c" fill-opacity="0.800"/>
<rect x="290.0" y="841.5" width="2.400" height="19.5" fill="#3cb93c" fill-opacity="0.800"/>
<rect x="291.6" y="830.4" width="2.400" height="30.6" fill="#3cb93c" fill-opacity="0.800"/>
<rect x="293.2" y="844.1" width="2.400" height="16.9" fill="#c84646" fill-opacity="0.800"/>
<rect x="294.8" y="847.6" width="2.400" height="13.4" fill="#3cb93c" fill-opacity="0.800"/>
<rect x="296.4" y="848.5" width="2.400" height="12.5" fill="#c84646" fill-opacity="0.800"/>
<rect x="298.0" y="843.2" width="2.400" height="17.8" fill="#c84646" fill-opacity="0.800"/>
<rect x="299.6" y="845.9" width="2.400" height="15.1" fill="#3cb93c" fill-opacity="0.800"/>
<rect x="301.3" y="830.4" width="2.400" height="30.6" fill="#c84646" fill-opacity="0.800"/>
<rect x="302.9" y="844.1" width="2.400" height="16.9" fill="#3cb93c" fill-opacity="0.800"/>
<rect x="304.5" y="850.2" width="2.400" height="10.8" fill="#3cb93c" fill-opacity="0.800"/>
<rect x="306.1" y="842.9" width="2.400" height="18.1" fill="#c84646" fill-opacity="0.800"/>
<rect x="307.7" y="844.1" width="2.400" height="16.9" fill="#c84646" fill-opacity="0.800"/>
<rect x="309.3" y="845.3" width="2.400" height="15.7" fill="#c84646" fill-opacity="0.800"/>
<rect x="310.9" y="846.7" width="2.400" height="14.3" fill="#c84646" fill-opacity="0.800"/>
<rect x="312.5" y="836.2" width="2.400" height="24.8" fill="#c84646" fill-opacity="0.800"/>
<rect x="314.1" y="827.4" width="2.400" height="33.6" fill="#c84646" fill-opacity="0.800"/>
<rect x="315.7" y="825.3" width="2.400" height="35.7" fill="#c84646" fill-opacity="0.800"/>
<rect x="317.3" y="839.7" width="2.400" height="21.3" fill="#3cb93c" fill-opacity="0.800"/>
<rect x="318.9" y="827.8" width="2.400" height="33.2" fill="#c84646" fill-opacity="0.800"/>
<rect x="320.5" y="844.6" width="2.400" height="16.4" fill="#3cb93c" fill-opacity="0.800"/>
<rect x="322.1" y="851.1" width="2.400" height="9.9" fill="#3cb93c" fill-opacity="0.800"/>
<rect x="323.7" y="857.3" width="2.400" height="3.7" fill="#c84646" fill-opacity="0.800"/>
<rect x="325.3" y="835.3" width="2.400" height="25.7" fill="#c84646" fill-opacity="0.800"/>
<rect x="326.9" y="836.2" width="2.400" height="24.8" fill="#c84646" fill-opacity="0.800"/>
<rect x="328.5" y="846.4" width="2.400" height="14.6" fill="#3cb93c" fill-opacity="0.800"/>
<rect x="330.1" y="845.9" width="2.400" height="15.1" fill="#3cb93c" fill-opacity="0.800"/>
<rect x="331.7" y="827.8" width="2.400" height="33.2" fill="#c84646" fill-opacity="0.800"/>
<rect x="333.3" y="836.6" width="2.400" height="24.4" fill="#3cb93c" fill-opacity="0.800"/>
<rect x="334.9" y="844.1" width="2.400" height="16.9" fill="#c84646" fill-opacity="0.800"/>
<rect x="336.5" y="844.6" width="2.400" height="16.4" fill="#c84646" fill-opacity="0.800"/>
<rect x="338.1" y="842.9" width="2.400" height="18.1" fill="#c84646" fill-opacity="0.800"/>
<rect x="339.7" y="848.5" width="2.400" height="12.5" fill="#3cb93c" fill-opacity="0.800"/>
<rect x="341.3" y="839.7" width="2.400" height="21.3" fill="#3cb93c" fill-opacity="0.800"/>
<rect x="342.9" y="840.6" width="2.400" height="20.4" fill="#3cb93c" fill-opacity="0.800"/>
<rect x="344.5" y="825.3" width="2.400" height="35.7" fill="#c84646" fill-opacity="0.800"/>
<rect x="346.1" y="841.5" width="2.400" height="19.5" fill="#3cb93c" fill-opacity="0.800"/>
<rect x="347.7" y="840.6" width="2.400" height="20.4" fill="#3cb93c" fill-opacity="0.800"/>
<rect x="349.3" y="835.3" width="2.400" height="25.7" fill="#c84646" fill-opacity="0.800"/>
<rect x="350.9" y="821.6" width="2.400" height="39.4" fill="#c84646" fill-opacity="0.800"/>
<rect x="352.5" y="832.7" width="2.400" height="28.3" fill="#c84646" fill-opacity="0.800"/>
<rect x="354.2" y="842.3" width="2.400" height="18.7" fill="#3cb93c" fill-opacity="0.800"/>
<rect x="355.8" y="848.5" width="2.400" height="12.5" fill="#3cb93c" fill-opacity="0.800"/>
<rect x="357.4" y="816.5" width="2.400" height="44.5" fill="#c84646" fill-opacity="0.800"/>
<rect x="359.0" y="825.3" width="2.400" height="35.7" fill="#c84646" fill-opacity="0.800"/>
<rect x="360.6" y="844.1" width="2.400" height="16.9" fill="#3cb93c" fill-opacity="0.800"/>
<rect x="362.2" y="843.2" width="2.400" height="17.8" fill="#3cb93c" fill-opacity="0.800"/>
<rect x="363.8" y="822.7" width="2.400" height="38.3" fill="#3cb93c" fill-opacity="0.800"/>
<rect x="365.4" y="842.9" width="2.400" height="18.1" fill="#c84646" fill-opacity="0.800"/>
<rect x="367.0" y="844.1" width="2.400" height="16.9" fill="#c84646" fill-opacity="0.800"/>
<rect x="368.6" y="846.4" width="2.400" height="14.6" fill="#3cb93c" fill-opacity="0.800"/>
<rect x="370.2" y="846.7" width="2.400" height="14.3" fill="#3cb93c" fill-opacity="0.800"/>
<rect x="371.8" y="846.4" width="2.400" height="14.6" fill="#3cb93c" fill-opacity="0.800"/>
<rect x="373.4" y="843.2" width="2.400" height="17.8" fill="#3cb93c" fill-opacity="0.800"/>
<rect x="375.0" y="834.4" width="2.400" height="26.6" fill="#3cb93c" fill-opacity="0.800"/>
<rect x="376.6" y="834.1" width="2.400" height="26.9" fill="#3cb93c" fill-opacity="0.800"/>
<rect x="378.2" y="822.7" width="2.400" height="38.3" fill="#3cb93c" fill-opacity="0.800"/>
<rect x="379.8" y="830.1" width="2.400" height="30.9" fill="#3cb93c" fill-opacity="0.800"/>
<rect x="381.4" y="839.7" width="2.400" height="21.3" fill="#c84646" fill-opacity="0.800"/>
<rect x="383.0" y="839.4" width="2.400" height="21.6" fill="#c84646" fill-opacity="0.800"/>
<rect x="384.6" y="836.6" width="2.400" height="24.4" fill="#c84646" fill-opacity="0.800"/>
<rect x="386.2" y="836.6" width="2.400" height="24.4" fill="#c84646" fill-opacity="0.800"/>
<rect x="387.8" y="837.1" width="2.400" height="23.9" fill="#c84646" fill-opacity="0.800"/>
<rect x="389.4" y="842.9" width="2.400" height="18.1" fill="#3cb93c" fill-opacity="0.800"/>
<rect x="391.0" y="843.2" width="2.400" height="17.8" fill="#3cb93c" fill-opacity="0.800"/>
<rect x="392.6" y="850.2" width="2.400" height="10.8" fill="#3cb93c" fill-opacity="0.800"/>
<rect x="394.2" y="805.5" width="2.400" height="55.5" fill="#c84646" fill-opacity="0.800"/>
<rect x="395.8" y="845.3" width="2.400" height="15.7" fill="#c84646" fill-opacity="0.800"/>
<rect x="397.4" y="845.3" width="2.400" height="15.7" fill="#3cb93c" fill-opacity="0.800"/>
<rect x="399.0" y="848.8" width="2.400" height="12.2" fill="#3cb93c" fill-opacity="0.800"/>
<rect x="400.6" y="849.4" width="2.400" height="11.6" fill="#3cb93c" fill-opacity="0.800"/>
<rect x="402.2" y="844.1" width="2.400" height="16.9" fill="#c84646" fill-opacity="0.800"/>
<rect x="403.8" y="844.1" width="2.400" height="16.9" fill="#3cb93c" fill-opacity="0.800"/>
<rect x="405.4" y="844.1" width="2.400" height="16.9" fill="#3cb93c" fill-opacity="0.800"/>
<rect x="407.1" y="845.9" width="2.400" height="15.1" fill="#c84646" fill-opacity="0.800"/>
<rect x="408.7" y="846.4" width="2.400" height="14.6" fill="#c84646" fill-opacity="0.800"/>
<rect x="410.3" y="841.5" width="2.400" height="19.5" fill="#c84646" fill-opacity="0.800"/>
<rect x="411.9" y="841.8" width="2.400" height="19.2" fill="#c84646" fill-opacity="0.800"/>
<rect x="413.5" y="821.6" width="2.400" height="39.4" fill="#3cb93c" fill-opacity="0.800"/>
<rect x="415.1" y="834.4" width="2.400" height="26.6" fill="#3cb93c" fill-opacity="0.800"/>
<rect x="416.7" y="810.2" width="2.400" height="50.8" fill="#3cb93c" fill-opacity="0.800"/>
<rect x="418.3" y="810.2" width="2.400" height="50.8" fill="#3cb93c" fill-opacity="0.800"/>
<rect x="419.9" y="832.3" width="2.400" height="28.7" fill="#c84646" fill-opacity="0.800"/>
<rect x="421.5" y="849.4" width="2.400" height="11.6" fill="#3cb93c" fill-opacity="0.800"/>
<rect x="423.1" y="848.8" width="2.400" height="12.2" fill="#3cb93c" fill-opacity="0.800"/>
<rect x="424.7" y="847.6" width="2.400" height="13.4" fill="#3cb93c" fill-opacity="0.800"/>
<rect x="426.3" y="848.5" width="2.400" height="12.5" fill="#3cb93c" fill-opacity="0.800"/>
<rect x="427.9" y="853.8" width="2.400" height="7.2" fill="#3cb93c" fill-opacity="0.800"/>
<rect x="429.5" y="832.3" width="2.400" height="28.7" fill="#c84646" fill-opacity="0.800"/>
<rect x="431.1" y="844.1" width="2.400" height="16.9" fill="#3cb93c" fill-opacity="0.800"/>
<rect x="432.7" y="846.4" width="2.400" height="14.6" fill="#3cb93c" fill-opacity="0.800"/>
<rect x="434.3" y="850.2" width="2.400" height="10.8" fill="#c84646" fill-opacity="0.800"/>
<rect x="435.9" y="852.9" width="2.400" height="8.1" fill="#c84646" fill-opacity="0.800"/>
<rect x="437.5" y="840.6" width="2.400" height="20.4" fill="#c84646" fill-opacity="0.800"/>
<rect x="439.1" y="845.0" width="2.400" height="16.0" fill="#3cb93c" fill-opacity="0.800"/>
<rect x="440.7" y="845.9" width="2.400" height="15.1" fill="#c84646" fill-opacity="0.800"/>
<rect x="442.3" y="832.7" width="2.400" height="28.3" fill="#c84646" fill-opacity="0.800"/>
<rect x="443.9" y="832.7" width="2.400" height="28.3" fill="#c84646" fill-opacity="0.800"/>
<rect x="445.5" y="832.7" width="2.400" height="28.3" fill="#c84646" fill-opacity="0.800"/>
<rect x="447.1" y="847.6" width="2.400" height="13.4" fill="#3cb93c" fill-opacity="0.800"/>
<rect x="448.7" y="850.2" width="2.400" height="10.8" fill="#c84646" fill-opacity="0.800"/>
<rect x="450.3" y="847.6" width="2.400" height="13.4" fill="#3cb93c" fill-opacity="0.800"/>
<rect x="451.9" y="847.6" width="2.400" height="13.4" fill="#3cb93c" fill-opacity="0.800"/>
<rect x="453.5" y="845.3" width="2.400" height="15.7" fill="#c84646" fill-opacity="0.800"/>
<rect x="455.1" y="847.6" width="2.400" height="13.4" fill="#c84646" fill-opacity="0.800"/>
<rect x="456.7" y="849.4" width="2.400" height="11.6" fill="#3cb93c" fill-opacity="0.800"/>
<rect x="458.3" y="836.6" width="2.400" height="24.4" fill="#3cb93c" fill-opacity="0.800"/>
<rect x="459.9" y="832.3" width="2.400" height="28.7" fill="#c84646" fill-opacity="0.800"/>
<rect x="461.6" y="845.9" width="2.400" height="15.1" fill="#c84646" fill-opacity="0.800"/>
<rect x="463.2" y="845.3" width="2.400" height="15.7" fill="#3cb93c" fill-opacity="0.800"/>
<rect x="464.8" y="851.1" width="2.400" height="9.9" fill="#3cb93c" fill-opacity="0.800"/>
<rect x="466.4" y="846.4" width="2.400" height="14.6" fill="#3cb93c" fill-opacity="0.800"/>
<rect x="468.0" y="845.9" width="2.400" height="15.1" fill="#3cb93c" fill-opacity="0.800"/>
<rect x="469.6" y="841.5" width="2.400" height="19.5" fill="#3cb93c" fill-opacity="0.800"/>
<rect x="471.2" y="853.8" width="2.400" height="7.2" fill="#3cb93c" fill-opacity="0.800"/>
<rect x="472.8" y="851.7" width="2.400" height="9.3" fill="#c84646" fill-opacity="0.800"/>
<rect x="474.4" y="852.0" width="2.400" height="9.0" fill="#c84646" fill-opacity="0.800"/>
<rect x="476.0" y="851.1" width="2.400" height="9.9" fill="#3cb93c" fill-opacity="0.800"/>
<rect x="477.6" y="851.7" width="2.400" height="9.3" fill="#3cb93c" fill-opacity="0.800"/>
<rect x="479.2" y="854.6" width="2.400" height="6.4" fill="#3cb93c" fill-opacity="0.800"/>
<rect x="480.8" y="853.8" width="2.400" height="7.2" fill="#c84646" fill-opacity="0.800"/>
<rect x="482.4" y="851.1" width="2.400" height="9.9" fill="#c84646" fill-opacity="0.800"/>
<rect x="484.0" y="846.4" width="2.400" height="14.6" fill="#3cb93c" fill-opacity="0.800"/>
<rect x="485.6" y="840.2" width="2.400" height="20.8" fill="#c84646" fill-opacity="0.800"/>
<rect x="487.2" y="840.6" width="2.400" height="20.4" fill="#c84646" fill-opacity="0.800"/>
<rect x="488.8" y="847.6" width="2.400" height="13.4" fill="#3cb93c" fill-opacity="0.800"/>
<rect x="490.4" y="845.3" width="2.400" height="15.7" fill="#3cb93c" fill-opacity="0.800"/>
<rect x="492.0" y="841.5" width="2.400" height="19.5" fill="#3cb93c" fill-opacity="0.800"/>
<rect x="493.6" y="847.6" width="2.400" height="13.4" fill="#c84646" fill-opacity="0.800"/>
<rect x="495.2" y="847.6" width="2.400" height="13.4" fill="#c84646" fill-opacity="0.800"/>
<rect x="496.8" y="849.4" width="2.400" height="11.6" fill="#c84646" fill-opacity="0.800"/>
<rect x="498.4" y="851.7" width="2.400" height="9.3" fill="#3cb93c" fill-opacity="0.800"/>
<rect x="500.0" y="852.0" width="2.400" height="9.0" fill="#3cb93c" fill-opacity="0.800"/>
<rect x="501.6" y="845.3" width="2.400" height="15.7" fill="#3cb93c" fill-opacity="0.800"/>
<rect x="503.2" y="835.3" width="2.400" height="25.7" fill="#c84646" fill-opacity="0.800"/>
<rect x="504.8" y="830.4" width="2.400" height="30.6" fill="#3cb93c" fill-opacity="0.800"/>
<rect x="506.4" y="846.7" width="2.400" height="14.3" fill="#3cb93c" fill-opacity="0.800"/>
<rect x="508.0" y="847.6" width="2.400" height="13.4" fill="#c84646" fill-opacity="0.800"/>
<rect x="509.6" y="831.3" width="2.400" height="29.7" fill="#c84646" fill-opacity="0.800"/>
<rect x="511.2" y="831.8" width="2.400" height="29.2" fill="#3cb93c" fill-opacity="0.800"/>
<rect x="512.8" y="830.4" width="2.400" height="30.6" fill="#3cb93c" fill-opacity="0.800"/>
<rect x="514.5" y="841.5" width="2.400" height="19.5" fill="#c84646" fill-opacity="0.800"/>
<rect x="516.1" y="846.7" width="2.400" height="14.3" fill="#3cb93c" fill-opacity="0.800"/>
<rect x="517.7" y="849.4" width="2.400" height="11.6" fill="#3cb93c" fill-opacity="0.800"/>
<rect x="519.3" y="815.1" width="2.400" height="45.9" fill="#c84646" fill-opacity="0.800"/>
<rect x="520.9" y="824.3" width="2.400" height="36.7" fill="#3cb93c" fill-opacity="0.800"/>
<rect x="522.5" y="832.3" width="2.400" height="28.7" fill="#3cb93c" fill-opacity="0.800"/>
<rect x="524.1" y="849.4" width="2.400" height="11.6" fill="#c84646" fill-opacity="0.800"/>
<rect x="525.7" y="850.2" width="2.400" height="10.8" fill="#c84646" fill-opacity="0.800"/>
<rect x="527.3" y="830.4" width="2.400" height="30.6" fill="#c84646" fill-opacity="0.800"/>
<rect x="528.9" y="840.6" width="2.400" height="20.4" fill="#c84646" fill-opacity="0.800"/>
<rect x="530.5" y="836.6" width="2.400" height="24.4" fill="#3cb93c" fill-opacity="0.800"/>
<rect x="532.1" y="836.6" width="2.400" height="24.4" fill="#3cb93c" fill-opacity="0.800"/>
<rect x="533.7" y="830.4" width="2.400" height="30.6" fill="#3cb93c" fill-opacity="0.800"/>
<rect x="535.3" y="822.7" width="2.400" height="38.3" fill="#3cb93c" fill-opacity="0.800"/>
<rect x="536.9" y="840.2" width="2.400" height="20.8" fill="#c84646" fill-opacity="0.800"/>
<rect x="538.5" y="839.4" width="2.400" height="21.6" fill="#3cb93c" fill-opacity="0.800"/>
<rect x="540.1" y="851.1" width="2.400" height="9.9" fill="#c84646" fill-opacity="0.800"/>
<rect x="541.7" y="849.4" width="2.400" height="11.6" fill="#3cb93c" fill-opacity="0.800"/>
<rect x="543.3" y="842.3" width="2.400" height="18.7" fill="#c84646" fill-opacity="0.800"/>
<rect x="544.9" y="842.3" width="2.400" height="18.7" fill="#c84646" fill-opacity="0.800"/>
<rect x="546.5" y="851.1" width="2.400" height="9.9" fill="#3cb93c" fill-opacity="0.800"/>
<rect x="548.1" y="850.2" width="2.400" height="10.8" fill="#c84646" fill-opacity="0.800"/>
<rect x="549.7" y="845.9" width="2.400" height="15.1" fill="#c84646" fill-opacity="0.800"/>
<rect x="551.3" y="823.9" width="2.400" height="37.1" fill="#c84646" fill-opacity="0.800"/>
<rect x="552.9" y="840.6" width="2.400" height="20.4" fill="#c84646" fill-opacity="0.800"/>
<rect x="554.5" y="847.6" width="2.400" height="13.4" fill="#3cb93c" fill-opacity="0.800"/>
<rect x="556.1" y="846.4" width="2.400" height="14.6" fill="#c84646" fill-opacity="0.800"/>
<rect x="557.7" y="847.6" width="2.400" height="13.4" fill="#c84646" fill-opacity="0.800"/>
<rect x="559.3" y="838.8" width="2.400" height="22.2" fill="#c84646" fill-opacity="0.800"/>
<rect x="560.9" y="839.7" width="2.400" height="21.3" fill="#c84646" fill-opacity="0.800"/>
<rect x="562.5" y="826.5" width="2.400" height="34.5" fill="#c84646" fill-opacity="0.800"/>
<rect x="564.1" y="839.4" width="2.400" height="21.6" fill="#3cb93c" fill-opacity="0.800"/>
<rect x="565.7" y="847.6" width="2.400" height="13.4" fill="#c84646" fill-opacity="0.800"/>
<rect x="567.4" y="849.4" width="2.400" height="11.6" fill="#c84646" fill-opacity="0.800"/>
<rect x="569.0" y="840.6" width="2.400" height="20.4" fill="#3cb93c" fill-opacity="0.800"/>
<rect x="570.6" y="840.6" width="2.400" height="20.4" fill="#3cb93c" fill-opacity="0.800"/>
<rect x="572.2" y="849.4" width="2.400" height="11.6" fill="#c84646" fill-opacity="0.800"/>
<rect x="573.8" y="851.1" width="2.400" height="9.9" fill="#3cb93c" fill-opacity="0.800"/>
<rect x="575.4" y="850.2" width="2.400" height="10.8" fill="#c84646" fill-opacity="0.800"/>
<rect x="577.0" y="854.6" width="2.400" height="6.4" fill="#3cb93c" fill-opacity="0.800"/>
<rect x="578.6" y="850.2" width="2.400" height="10.8" fill="#c84646" fill-opacity="0.800"/>
<rect x="580.2" y="850.2" width="2.400" height="10.8" fill="#c84646" fill-opacity="0.800"/>
<rect x="581.8" y="822.7" width="2.400" height="38.3" fill="#c84646" fill-opacity="0.800"/>
<rect x="583.4" y="832.7" width="2.400" height="28.3" fill="#3cb93c" fill-opacity="0.800"/>
<rect x="585.0" y="832.7" width="2.400" height="28.3" fill="#3cb93c" fill-opacity="0.800"/>
<rect x="586.6" y="840.6" width="2.400" height="20.4" fill="#c84646" fill-opacity="0.800"/>
<rect x="588.2" y="850.2" width="2.400" height="10.8" fill="#3cb93c" fill-opacity="0.800"/>
<rect x="589.8" y="847.6" width="2.400" height="13.4" fill="#c84646" fill-opacity="0.800"/>
<rect x="591.4" y="848.5" width="2.400" height="12.5" fill="#c84646" fill-opacity="0.800"/>
<rect x="593.0" y="846.4" width="2.400" height="14.6" fill="#c84646" fill-opacity="0.800"/>
<rect x="594.6" y="841.8" width="2.400" height="19.2" fill="#c84646" fill-opacity="0.800"/>
<rect x="596.2" y="841.5" width="2.400" height="19.5" fill="#c84646" fill-opacity="0.800"/>
<rect x="597.8" y="846.4" width="2.400" height="14.6" fill="#c84646" fill-opacity="0.800"/>
<rect x="599.4" y="835.3" width="2.400" height="25.7" fill="#c84646" fill-opacity="0.800"/>
<rect x="601.0" y="823.9" width="2.400" height="37.1" fill="#3cb93c" fill-opacity="0.800"/>
<rect x="602.6" y="836.2" width="2.400" height="24.8" fill="#c84646" fill-opacity="0.800"/>
<rect x="604.2" y="840.6" width="2.400" height="20.4" fill="#c84646" fill-opacity="0.800"/>
<rect x="605.8" y="836.6" width="2.400" height="24.4" fill="#3cb93c" fill-opacity="0.800"/>
<rect x="607.4" y="837.1" width="2.400" height="23.9" fill="#3cb93c" fill-opacity="0.800"/>
<rect x="609.0" y="840.6" width="2.400" height="20.4" fill="#c84646" fill-opacity="0.800"/>
<rect x="610.6" y="841.5" width="2.400" height="19.5" fill="#c84646" fill-opacity="0.800"/>
<rect x="612.2" y="846.4" width="2.400" height="14.6" fill="#3cb93c" fill-opacity="0.800"/>
<rect x="613.8" y="849.4" width="2.400" height="11.6" fill="#c84646" fill-opacity="0.800"/>
<rect x="615.4" y="851.1" width="2.400" height="9.9" fill="#c84646" fill-opacity="0.800"/>
<rect x="617.0" y="845.3" width="2.400" height="15.7" fill="#c84646" fill-opacity="0.800"/>
<rect x="618.6" y="853.8" width="2.400" height="7.2" fill="#c84646" fill-opacity="0.800"/>
<rect x="620.2" y="820.4" width="2.400" height="40.6" fill="#c84646" fill-opacity="0.800"/>
<rect x="621.9" y="822.7" width="2.400" height="38.3" fill="#3cb93c" fill-opacity="0.800"/>
<rect x="623.5" y="822.7" width="2.400" height="38.3" fill="#3cb93c" fill-opacity="0.800"/>
<rect x="625.1" y="807.2" width="2.400" height="53.8" fill="#3cb93c" fill-opacity="0.800"/>
<rect x="626.7" y="806.3" width="2.400" height="54.7" fill="#3cb93c" fill-opacity="0.800"/>
<rect x="628.3" y="805.5" width="2.400" height="55.5" fill="#3cb93c" fill-opacity="0.800"/>
<rect x="629.9" y="822.7" width="2.400" height="38.3" fill="#3cb93c" fill-opacity="0.800"/>
<rect x="631.5" y="830.9" width="2.400" height="30.1" fill="#c84646" fill-opacity="0.800"/>
<rect x="633.1" y="825.3" width="2.400" height="35.7" fill="#c84646" fill-opacity="0.800"/>
<rect x="634.7" y="825.3" width="2.400" height="35.7" fill="#c84646" fill-opacity="0.800"/>
<rect x="636.3" y="825.3" width="2.400" height="35.7" fill="#c84646" fill-opacity="0.800"/>
<rect x="637.9" y="836.6" width="2.400" height="24.4" fill="#3cb93c" fill-opacity="0.800"/>
<rect x="639.5" y="836.6" width="2.400" height="24.4" fill="#3cb93c" fill-opacity="0.800"/>
<rect x="641.1" y="841.5" width="2.400" height="19.5" fill="#3cb93c" fill-opacity="0.800"/>
<rect x="642.7" y="850.2" width="2.400" height="10.8" fill="#c84646" fill-opacity="0.800"/>
<rect x="644.3" y="851.1" width="2.400" height="9.9" fill="#3cb93c" fill-opacity="0.800"/>
<rect x="645.9" y="840.6" width="2.400" height="20.4" fill="#c84646" fill-opacity="0.800"/>
<rect x="647.5" y="838.0" width="2.400" height="23.0" fill="#c84646" fill-opacity="0.800"/>
<rect x="649.1" y="839.4" width="2.400" height="21.6" fill="#c84646" fill-opacity="0.800"/>
<rect x="650.7" y="840.6" width="2.400" height="20.4" fill="#c84646" fill-opacity="0.800"/>
<rect x="652.3" y="841.5" width="2.400" height="19.5" fill="#3cb93c" fill-opacity="0.800"/>
<rect x="653.9" y="838.0" width="2.400" height="23.0" fill="#3cb93c" fill-opacity="0.800"/>
<rect x="655.5" y="837.6" width="2.400" height="23.4" fill="#3cb93c" fill-opacity="0.800"/>
<rect x="657.1" y="836.6" width="2.400" height="24.4" fill="#c84646" fill-opacity="0.800"/>
<rect x="658.7" y="834.1" width="2.400" height="26.9" fill="#c84646" fill-opacity="0.800"/>
<rect x="660.3" y="834.1" width="2.400" height="26.9" fill="#3cb93c" fill-opacity="0.800"/>
<rect x="661.9" y="834.1" width="2.400" height="26.9" fill="#3cb93c" fill-opacity="0.800"/>
<rect x="663.5" y="845.3" width="2.400" height="15.7" fill="#c84646" fill-opacity="0.800"/>
<rect x="665.1" y="832.7" width="2.400" height="28.3" fill="#c84646" fill-opacity="0.800"/>
<rect x="666.7" y="820.4" width="2.400" height="40.6" fill="#c84646" fill-opacity="0.800"/>
<rect x="668.3" y="820.4" width="2.400" height="40.6" fill="#c84646" fill-opacity="0.800"/>
<rect x="669.9" y="849.4" width="2.400" height="11.6" fill="#c84646" fill-opacity="0.800"/>
<rect x="671.5" y="838.0" width="2.400" height="23.0" fill="#3cb93c" fill-opacity="0.800"/>
<rect x="673.1" y="835.3" width="2.400" height="25.7" fill="#3cb93c" fill-opacity="0.800"/>
<rect x="674.8" y="832.3" width="2.400" height="28.7" fill="#3cb93c" fill-opacity="0.800"/>
<rect x="676.4" y="839.7" width="2.400" height="21.3" fill="#3cb93c" fill-opacity="0.800"/>
<rect x="678.0" y="850.2" width="2.400" height="10.8" fill="#3cb93c" fill-opacity="0.800"/>
<rect x="679.6" y="841.5" width="2.400" height="19.5" fill="#c84646" fill-opacity="0.800"/>
<rect x="681.2" y="848.8" width="2.400" height="12.2" fill="#3cb93c" fill-opacity="0.800"/>
<rect x="682.8" y="845.3" width="2.400" height="15.7" fill="#c84646" fill-opacity="0.800"/>
<rect x="684.4" y="840.2" width="2.400" height="20.8" fill="#3cb93c" fill-opacity="0.800"/>
<rect x="686.0" y="843.2" width="2.400" height="17.8" fill="#c84646" fill-opacity="0.800"/>
<rect x="687.6" y="843.2" width="2.400" height="17.8" fill="#c84646" fill-opacity="0.800"/>
<rect x="689.2" y="835.3" width="2.400" height="25.7" fill="#3cb93c" fill-opacity="0.800"/>
<rect x="690.8" y="845.3" width="2.400" height="15.7" fill="#c84646" fill-opacity="0.800"/>
<rect x="692.4" y="850.2" width="2.400" height="10.8" fill="#3cb93c" fill-opacity="0.800"/>
<rect x="694.0" y="835.3" width="2.400" height="25.7" fill="#c84646" fill-opacity="0.800"/>
<rect x="695.6" y="844.1" width="2.400" height="16.9" fill="#c84646" fill-opacity="0.800"/>
<rect x="697.2" y="852.9" width="2.400" height="8.1" fill="#3cb93c" fill-opacity="0.800"/>
<rect x="698.8" y="847.6" width="2.400" height="13.4" fill="#c84646" fill-opacity="0.800"/>
<rect x="700.4" y="845.3" width="2.400" height="15.7" fill="#c84646" fill-opacity="0.800"/>
<rect x="702.0" y="845.3" width="2.400" height="15.7" fill="#3cb93c" fill-opacity="0.800"/>
<rect x="703.6" y="850.2" width="2.400" height="10.8" fill="#c84646" fill-opacity="0.800"/>
<rect x="705.2" y="844.1" width="2.400" height="16.9" fill="#3cb93c" fill-opacity="0.800"/>
<rect x="706.8" y="843.2" width="2.400" height="17.8" fill="#3cb93c" fill-opacity="0.800"/>
<rect x="708.4" y="845.3" width="2.400" height="15.7" fill="#c84646" fill-opacity="0.800"/>
<rect x="710.0" y="845.3" width="2.400" height="15.7" fill="#c84646" fill-opacity="0.800"/>
<rect x="711.6" y="835.3" width="2.400" height="25.7" fill="#3cb93c" fill-opacity="0.800"/>
<rect x="713.2" y="846.4" width="2.400" height="14.6" fill="#3cb93c" fill-opacity="0.800"/>
<rect x="714.8" y="847.6" width="2.400" height="13.4" fill="#3cb93c" fill-opacity="0.800"/>
<rect x="716.4" y="858.2" width="2.400" height="2.8" fill="#3cb93c" fill-opacity="0.800"/>
<rect x="718.0" y="854.6" width="2.400" height="6.4" fill="#c84646" fill-opacity="0.800"/>
<rect x="719.6" y="846.4" width="2.400" height="14.6" fill="#c84646" fill-opacity="0.800"/>
<rect x="721.2" y="845.9" width="2.400" height="15.1" fill="#c84646" fill-opacity="0.800"/>
<rect x="722.8" y="856.4" width="2.400" height="4.6" fill="#3cb93c" fill-opacity="0.800"/>
<rect x="724.4" y="846.7" width="2.400" height="14.3" fill="#3cb93c" fill-opacity="0.800"/>
<rect x="726.0" y="844.1" width="2.400" height="16.9" fill="#3cb93c" fill-opacity="0.800"/>
<rect x="727.7" y="845.9" width="2.400" height="15.1" fill="#c84646" fill-opacity="0.800"/>
<rect x="729.3" y="845.9" width="2.400" height="15.1" fill="#c84646" fill-opacity="0.800"/>
<rect x="730.9" y="846.4" width="2.400" height="14.6" fill="#c84646" fill-opacity="0.800"/>
<rect x="732.5" y="847.6" width="2.400" height="13.4" fill="#3cb93c" fill-opacity="0.800"/>
<rect x="734.1" y="841.5" width="2.400" height="19.5" fill="#c84646" fill-opacity="0.800"/>
<rect x="735.7" y="840.6" width="2.400" height="20.4" fill="#c84646" fill-opacity="0.800"/>
<rect x="737.3" y="841.5" width="2.400" height="19.5" fill="#c84646" fill-opacity="0.800"/>
<rect x="738.9" y="830.9" width="2.400" height="30.1" fill="#c84646" fill-opacity="0.800"/>
<rect x="740.5" y="827.8" width="2.400" height="33.2" fill="#c84646" fill-opacity="0.800"/>
<rect x="742.1" y="827.4" width="2.400" height="33.6" fill="#c84646" fill-opacity="0.800"/>
<rect x="743.7" y="797.6" width="2.400" height="63.4" fill="#c84646" fill-opacity="0.800"/>
<rect x="745.3" y="824.8" width="2.400" height="36.2" fill="#3cb93c" fill-opacity="0.800"/>
<rect x="746.9" y="823.9" width="2.400" height="37.1" fill="#c84646" fill-opacity="0.800"/>
<rect x="748.5" y="842.3" width="2.400" height="18.7" fill="#3cb93c" fill-opacity="0.800"/>
<rect x="750.1" y="846.4" width="2.400" height="14.6" fill="#3cb93c" fill-opacity="0.800"/>
<rect x="751.7" y="845.9" width="2.400" height="15.1" fill="#3cb93c" fill-opacity="0.800"/>
<rect x="753.3" y="844.1" width="2.400" height="16.9" fill="#3cb93c" fill-opacity="0.800"/>
<rect x="754.9" y="826.5" width="2.400" height="34.5" fill="#c84646" fill-opacity="0.800"/>
<rect x="756.5" y="834.4" width="2.400" height="26.6" fill="#c84646" fill-opacity="0.800"/>
<rect x="758.1" y="834.8" width="2.400" height="26.2" fill="#c84646" fill-opacity="0.800"/>
<rect x="759.7" y="834.4" width="2.400" height="26.6" fill="#3cb93c" fill-opacity="0.800"/>
<rect x="761.3" y="831.8" width="2.400" height="29.2" fill="#3cb93c" fill-opacity="0.800"/>
<rect x="762.9" y="840.6" width="2.400" height="20.4" fill="#c84646" fill-opacity="0.800"/>
<rect x="764.5" y="832.7" width="2.400" height="28.3" fill="#c84646" fill-opacity="0.800"/>
<rect x="766.1" y="830.9" width="2.400" height="30.1" fill="#c84646" fill-opacity="0.800"/>
<rect x="767.7" y="827.8" width="2.400" height="33.2" fill="#c84646" fill-opacity="0.800"/>
<rect x="769.3" y="832.7" width="2.400" height="28.3" fill="#c84646" fill-opacity="0.800"/>
<rect x="770.9" y="843.2" width="2.400" height="17.8" fill="#c84646" fill-opacity="0.800"/>
<rect x="772.5" y="834.4" width="2.400" height="26.6" fill="#3cb93c" fill-opacity="0.800"/>
<rect x="774.1" y="834.1" width="2.400" height="26.9" fill="#3cb93c" fill-opacity="0.800"/>
<rect x="775.7" y="845.9" width="2.400" height="15.1" fill="#c84646" fill-opacity="0.800"/>
<rect x="777.3" y="845.0" width="2.400" height="16.0" fill="#c84646" fill-opacity="0.800"/>
<rect x="778.9" y="834.4" width="2.400" height="26.6" fill="#c84646" fill-opacity="0.800"/>
<rect x="780.5" y="834.1" width="2.400" height="26.9" fill="#c84646" fill-opacity="0.800"/>
<rect x="782.2" y="844.1" width="2.400" height="16.9" fill="#c84646" fill-opacity="0.800"/>
<rect x="783.8" y="841.5" width="2.400" height="19.5" fill="#3cb93c" fill-opacity="0.800"/>
<rect x="785.4" y="839.4" width="2.400" height="21.6" fill="#3cb93c" fill-opacity="0.800"/>
<rect x="787.0" y="844.1" width="2.400" height="16.9" fill="#3cb93c" fill-opacity="0.800"/>
<rect x="788.6" y="832.7" width="2.400" height="28.3" fill="#3cb93c" fill-opacity="0.800"/>
<rect x="790.2" y="816.5" width="2.400" height="44.5" fill="#3cb93c" fill-opacity="0.800"/>
<rect x="791.8" y="836.2" width="2.400" height="24.8" fill="#3cb93c" fill-opacity="0.800"/>
<rect x="793.4" y="832.7" width="2.400" height="28.3" fill="#3cb93c" fill-opacity="0.800"/>
<rect x="795.0" y="838.0" width="2.400" height="23.0" fill="#c84646" fill-opacity="0.800"/>
<rect x="796.6" y="840.6" width="2.400" height="20.4" fill="#c84646" fill-opacity="0.800"/>
<rect x="798.2" y="819.0" width="2.400" height="42.0" fill="#3cb93c" fill-opacity="0.800"/>
<rect x="799.8" y="801.4" width="2.400" height="59.6" fill="#3cb93c" fill-opacity="0.800"/>
<rect x="801.4" y="801.4" width="2.400" height="59.6" fill="#3cb93c" fill-opacity="0.800"/>
<rect x="803.0" y="822.7" width="2.400" height="38.3" fill="#c84646" fill-opacity="0.800"/>
<rect x="804.6" y="826.5" width="2.400" height="34.5" fill="#c84646" fill-opacity="0.800"/>
<rect x="806.2" y="830.9" width="2.400" height="30.1" fill="#3cb93c" fill-opacity="0.800"/>
<rect x="807.8" y="810.2" width="2.400" height="50.8" fill="#3cb93c" fill-opacity="0.800"/>
<rect x="809.4" y="822.7" width="2.400" height="38.3" fill="#c84646" fill-opacity="0.800"/>
<rect x="811.0" y="832.3" width="2.400" height="28.7" fill="#3cb93c" fill-opacity="0.800"/>
<rect x="812.6" y="835.3" width="2.400" height="25.7" fill="#3cb93c" fill-opacity="0.800"/>
<rect x="814.2" y="846.7" width="2.400" height="14.3" fill="#c84646" fill-opacity="0.800"/>
<rect x="815.8" y="819.0" width="2.400" height="42.0" fill="#c84646" fill-opacity="0.800"/>
<rect x="817.4" y="825.3" width="2.400" height="35.7" fill="#c84646" fill-opacity="0.800"/>
<rect x="819.0" y="826.0" width="2.400" height="35.0" fill="#c84646" fill-opacity="0.800"/>
<rect x="820.6" y="838.0" width="2.400" height="23.0" fill="#3cb93c" fill-opacity="0.800"/>
<rect x="822.2" y="841.5" width="2.400" height="19.5" fill="#c84646" fill-opacity="0.800"/>
<rect x="823.8" y="836.2" width="2.400" height="24.8" fill="#c84646" fill-opacity="0.800"/>
<rect x="825.4" y="830.9" width="2.400" height="30.1" fill="#c84646" fill-opacity="0.800"/>
<rect x="827.0" y="820.4" width="2.400" height="40.6" fill="#c84646" fill-opacity="0.800"/>
<rect x="828.6" y="841.5" width="2.400" height="19.5" fill="#3cb93c" fill-opacity="0.800"/>
<rect x="830.2" y="836.2" width="2.400" height="24.8" fill="#c84646" fill-opacity="0.800"/>
<rect x="831.8" y="814.2" width="2.400" height="46.8" fill="#3cb93c" fill-opacity="0.800"/>
<rect x="833.4" y="821.6" width="2.400" height="39.4" fill="#3cb93c" fill-opacity="0.800"/>
<rect x="835.1" y="845.9" width="2.400" height="15.1" fill="#3cb93c" fill-opacity="0.800"/>
<rect x="836.7" y="832.7" width="2.400" height="28.3" fill="#3cb93c" fill-opacity="0.800"/>
<rect x="838.3" y="835.3" width="2.400" height="25.7" fill="#3cb93c" fill-opacity="0.800"/>
<rect x="839.9" y="834.4" width="2.400" height="26.6" fill="#3cb93c" fill-opacity="0.800"/>
<rect x="841.5" y="834.4" width="2.400" height="26.6" fill="#3cb93c" fill-opacity="0.800"/>
<rect x="843.1" y="819.0" width="2.400" height="42.0" fill="#3cb93c" fill-opacity="0.800"/>
<rect x="844.7" y="821.6" width="2.400" height="39.4" fill="#3cb93c" fill-opacity="0.800"/>
<rect x="846.3" y="832.3" width="2.400" height="28.7" fill="#c84646" fill-opacity="0.800"/>
<rect x="847.9" y="832.7" width="2.400" height="28.3" fill="#c84646" fill-opacity="0.800"/>
<rect x="849.5" y="832.7" width="2.400" height="28.3" fill="#c84646" fill-opacity="0.800"/>
<rect x="851.1" y="832.7" width="2.400" height="28.3" fill="#c84646" fill-opacity="0.800"/>
<rect x="852.7" y="849.4" width="2.400" height="11.6" fill="#3cb93c" fill-opacity="0.800"/>
<rect x="854.3" y="832.7" width="2.400" height="28.3" fill="#c84646" fill-opacity="0.800"/>
<rect x="855.9" y="836.2" width="2.400" height="24.8" fill="#c84646" fill-opacity="0.800"/>
<rect x="857.5" y="835.8" width="2.400" height="25.2" fill="#c84646" fill-opacity="0.800"/>
<rect x="859.1" y="835.3" width="2.400" height="25.7" fill="#c84646" fill-opacity="0.800"/>
<rect x="860.7" y="846.4" width="2.400" height="14.6" fill="#c84646" fill-opacity="0.800"/>
<rect x="862.3" y="838.0" width="2.400" height="23.0" fill="#c84646" fill-opacity="0.800"/>
<rect x="863.9" y="840.2" width="2.400" height="20.8" fill="#3cb93c" fill-opacity="0.800"/>
<rect x="865.5" y="840.6" width="2.400" height="20.4" fill="#3cb93c" fill-opacity="0.800"/>
<rect x="867.1" y="849.4" width="2.400" height="11.6" fill="#c84646" fill-opacity="0.800"/>
<rect x="868.7" y="841.5" width="2.400" height="19.5" fill="#c84646" fill-opacity="0.800"/>
<rect x="870.3" y="844.1" width="2.400" height="16.9" fill="#3cb93c" fill-opacity="0.800"/>
<rect x="871.9" y="842.9" width="2.400" height="18.1" fill="#c84646" fill-opacity="0.800"/>
<rect x="873.5" y="847.6" width="2.400" height="13.4" fill="#3cb93c" fill-opacity="0.800"/>
<rect x="875.1" y="846.4" width="2.400" height="14.6" fill="#c84646" fill-opacity="0.800"/>
<rect x="876.7" y="846.7" width="2.400" height="14.3" fill="#c84646" fill-opacity="0.800"/>
<rect x="878.3" y="817.8" width="2.400" height="43.2" fill="#c84646" fill-opacity="0.800"/>
<rect x="879.9" y="832.3" width="2.400" height="28.7" fill="#3cb93c" fill-opacity="0.800"/>
<rect x="881.5" y="838.0" width="2.400" height="23.0" fill="#c84646" fill-opacity="0.800"/>
<rect x="883.1" y="841.5" width="2.400" height="19.5" fill="#3cb93c" fill-opacity="0.800"/>
<rect x="884.7" y="708.9" width="2.400" height="152.1" fill="#c84646" fill-opacity="0.800"/>
<polyline points="6.0,841.4 8.0,840.5 10.0,838.8 12.0,837.6 14.0,836.8 16.0,836.4 18.0,836.1 20.0,835.7 22.0,835.4 24.0,835.1 26.0,834.7 28.0,834.4 30.0,834.1 32.0,834.0 34.0,834.3 36.0,835.1 38.0,836.2 40.0,837.3 42.0,838.6 44.0,839.7 46.0,840.4 48.0,840.9 50.0,841.0 52.0,841.2 54.0,841.4 56.0,841.7 58.0,842.0 60.0,842.4 62.0,842.9 64.0,843.5 66.0,844.0 68.0,844.0 70.0,843.5 72.0,842.4 74.0,841.2 76.0,839.9 78.0,838.5 80.0,837.3 82.0,836.7 84.0,836.5 86.0,836.4 88.0,836.4 90.0,836.3 92.0,836.2 94.0,836.2 96.0,836.2 98.0,836.2 100.0,836.2 102.0,836.4 104.0,837.3 106.0,838.9 108.0,840.8 110.0,842.3 112.0,843.2 114.0,843.6 116.0,843.8 118.0,843.5 120.0,842.1 122.0,839.5 124.0,836.3 126.0,833.5 128.0,831.4 130.0,829.8 132.0,828.3 134.0,826.8 136.0,825.5 138.0,824.4 140.0,823.3 142.0,822.3 144.0,821.8 146.0,821.9 148.0,822.3 150.0,823.1 152.0,824.2 154.0,825.8 156.0,827.6 158.0,829.7 160.0,832.1 162.0,834.3 164.0,835.6 166.0,835.9 168.0,835.7 170.0,835.5 172.0,835.3 174.0,835.1 176.0,834.9 178.0,834.7 180.0,834.6 182.0,834.7 184.0,835.1 186.0,835.5 188.0,835.9 190.0,836.2 192.0,836.7 194.0,837.2 196.0,837.9 198.0,838.6 200.0,839.4 202.0,840.3 204.0,841.1 206.0,841.7 208.0,841.9 210.0,841.5 212.0,840.4 214.0,839.0 216.0,837.9 218.0,837.5 220.0,837.4 222.0,837.6 224.0,837.8 226.0,838.1 228.0,838.3 230.0,838.5 232.0,838.5 234.0,838.2 236.0,837.7 238.0,837.2 240.0,836.8 242.0,836.5 244.0,836.3 246.0,836.1 248.0,836.0 250.0,835.9 252.0,835.5 254.0,834.8 256.0,833.9 258.0,833.2 260.0,832.6 262.0,832.1 264.0,832.0 266.0,831.9 268.0,832.0 270.0,832.1 272.0,832.3 274.0,832.6 276.0,832.9 278.0,833.3 280.0,833.8 282.0,834.4 284.0,835.1 286.0,835.8 288.0,836.3 290.0,836.6 292.0,836.9 294.0,837.2 296.0,837.6 298.0,838.1 300.0,838.6 302.0,839.1 304.0,839.6 306.0,840.1 308.0,840.3 310.0,840.1 312.0,839.6 314.0,839.2 316.0,839.0 318.0,839.1 320.0,839.2 322.0,839.3 324.0,839.2 326.0,839.1 328.0,838.9 330.0,838.8 332.0,838.8 334.0,838.8 336.0,838.9 338.0,839.1 340.0,839.3 342.0,839.5 344.0,839.7 346.0,839.7 348.0,839.5 350.0,839.0 352.0,838.3 354.0,837.7 356.0,837.3 358.0,837.0 360.0,836.7 362.0,836.5 364.0,836.4 366.0,836.4 368.0,836.6 370.0,836.8 372.0,837.0 374.0,837.0 376.0,836.8 378.0,836.7 380.0,836.7 382.0,836.8 384.0,837.0 386.0,837.1 388.0,837.3 390.0,837.6 392.0,837.8 394.0,837.9 396.0,837.8 398.0,837.7 400.0,837.8 402.0,837.9 404.0,838.3 406.0,838.7 408.0,839.2 410.0,839.8 412.0,840.0 414.0,839.7 416.0,838.9 418.0,838.3 420.0,838.1 422.0,838.4 424.0,838.9 426.0,839.4 428.0,839.7 430.0,839.9 432.0,840.0 434.0,840.0 436.0,840.0 438.0,839.9 440.0,839.8 442.0,840.0 444.0,840.6 446.0,841.5 448.0,842.2 450.0,842.6 452.0,842.9 454.0,843.0 456.0,842.9 458.0,842.5 460.0,842.2 462.0,842.0 464.0,842.0 466.0,842.1 468.0,842.5 470.0,843.1 472.0,844.0 474.0,844.9 476.0,845.8 478.0,846.5 480.0,847.1 482.0,847.5 484.0,847.6 486.0,847.6 488.0,847.7 490.0,847.9 492.0,848.1 494.0,848.3 496.0,848.3 498.0,848.1 500.0,847.9 502.0,847.4 504.0,846.6 506.0,845.6 508.0,844.6 510.0,843.6 512.0,842.6 514.0,841.6 516.0,840.8 518.0,840.1 520.0,839.6 522.0,839.0 524.0,838.4 526.0,837.7 528.0,837.0 530.0,836.4 532.0,835.9 534.0,835.6 536.0,835.7 538.0,836.2 540.0,836.8 542.0,837.4 544.0,837.9 546.0,838.4 548.0,839.1 550.0,839.9 552.0,840.4 554.0,840.9 556.0,841.1 558.0,841.3 560.0,841.5 562.0,841.5 564.0,841.5 566.0,841.7 568.0,842.0 570.0,842.4 572.0,842.9 574.0,843.2 576.0,843.4 578.0,843.5 580.0,843.4 582.0,843.2 584.0,842.9 586.0,842.6 588.0,842.7 590.0,843.0 592.0,843.5 594.0,843.7 596.0,843.4 598.0,842.7 600.0,842.0 602.0,841.5 604.0,841.1 606.0,840.9 608.0,840.8 610.0,841.1 612.0,841.5 614.0,841.9 616.0,841.8 618.0,841.4 620.0,840.4 622.0,839.0 624.0,837.1 626.0,835.6 628.0,834.4 630.0,833.5 632.0,832.8 634.0,832.3 636.0,832.1 638.0,831.9 640.0,831.8 642.0,831.8 644.0,831.7 646.0,831.3 648.0,830.8 650.0,830.7 652.0,831.1 654.0,832.0 656.0,833.2 658.0,834.4 660.0,835.3 662.0,835.9 664.0,836.3 666.0,836.7 668.0,836.9 670.0,837.0 672.0,836.8 674.0,836.7 676.0,836.7 678.0,836.8 680.0,837.0 682.0,837.2 684.0,837.6 686.0,838.1 688.0,838.6 690.0,839.1 692.0,839.6 694.0,840.1 696.0,840.7 698.0,841.3 700.0,842.1 702.0,842.7 704.0,843.3 706.0,843.8 708.0,844.2 710.0,844.5 712.0,844.7 714.0,844.8 716.0,845.0 718.0,845.3 720.0,845.6 722.0,846.1 724.0,846.4 726.0,846.6 728.0,846.6 730.0,846.5 732.0,846.1 734.0,845.5 736.0,844.6 738.0,843.6 740.0,842.4 742.0,841.0 744.0,839.5 746.0,838.4 748.0,837.5 750.0,837.0 752.0,836.5 754.0,836.0 756.0,835.5 758.0,834.9 760.0,834.4 762.0,833.7 764.0,833.0 766.0,832.5 768.0,832.6 770.0,833.2 772.0,834.2 774.0,835.2 776.0,836.2 778.0,836.7 780.0,836.9 782.0,836.8 784.0,836.7 786.0,836.5 788.0,836.4 790.0,836.3 792.0,835.9 794.0,835.4 796.0,834.6 798.0,833.8 800.0,833.0 802.0,832.0 804.0,831.0 806.0,830.0 808.0,829.0 810.0,827.9 812.0,827.2 814.0,826.8 816.0,826.8 818.0,826.9 820.0,827.0 822.0,826.9 824.0,826.7 826.0,826.8 828.0,827.2 830.0,828.1 832.0,829.1 834.0,829.9 836.0,830.3 838.0,830.6 840.0,830.8 842.0,831.0 844.0,831.3 846.0,831.6 848.0,831.7 850.0,831.8 852.0,831.8 854.0,831.9 856.0,832.1 858.0,832.6 860.0,833.1 862.0,833.8 864.0,834.6 866.0,835.6 868.0,836.6 870.0,837.4 872.0,838.2 874.0,839.0 876.0,839.3 878.0,839.4 880.0,838.5 882.0,836.3 884.0,834.9" fill="none" stroke="#2e2e2e" stroke-opacity="0.550" stroke-width="2.400" stroke-linejoin="round"/>
<path d="M6 689.500H963" stroke="#4a4a4a" stroke-width="1.200" fill="none"/>
<path d="M907 88V872.900M6 871.900H908" stroke="#848484" stroke-width="1.900" fill="none"/>
<path d="M908 105.0h3.200 M908 151.2h3.200 M908 197.4h3.200 M908 243.5h3.200 M908 289.7h3.200 M908 335.9h3.200 M908 382.1h3.200 M908 428.3h3.200 M908 474.4h3.200 M908 520.6h3.200 M908 566.8h3.200 M908 613.0h3.200 M908 711.8h3.200 M908 749.6h3.200 M908 786.9h3.200 M908 823.7h3.200 M908 861.1h3.200 M32.5 872.500v3.400 M129.0 872.500v3.400 M230.5 872.500v3.400 M329.4 872.500v3.400 M426.5 872.500v3.400 M523.0 872.500v3.400 M624.4 872.500v3.400 M725.6 872.500v3.400 M820.5 872.500v3.400" stroke="#7c7c7c" stroke-width="1.900" fill="none"/>
<text x="915" y="110.1" font-size="13.600" fill="#606060">0.1500</text>
<text x="915" y="156.3" font-size="13.600" fill="#606060">0.1400</text>
<text x="915" y="202.5" font-size="13.600" fill="#606060">0.1300</text>
<text x="915" y="248.6" font-size="13.600" fill="#606060">0.1200</text>
<text x="915" y="294.8" font-size="13.600" fill="#606060">0.1100</text>
<text x="915" y="341.0" font-size="13.600" fill="#606060">0.1000</text>
<text x="915" y="387.2" font-size="13.600" fill="#606060">0.0900</text>
<text x="915" y="433.4" font-size="13.600" fill="#606060">0.0800</text>
<text x="915" y="479.5" font-size="13.600" fill="#606060">0.0700</text>
<text x="915" y="525.7" font-size="13.600" fill="#606060">0.0600</text>
<text x="915" y="571.9" font-size="13.600" fill="#606060">0.0500</text>
<text x="915" y="618.1" font-size="13.600" fill="#606060">0.0400</text>
<text x="915" y="717.3" font-size="13.600" fill="#606060">2B</text>
<text x="915" y="755.1" font-size="13.600" fill="#606060">1.5B</text>
<text x="915" y="792.4" font-size="13.600" fill="#606060">1B</text>
<text x="915" y="829.2" font-size="13.600" fill="#606060">500M</text>
<text x="915" y="866.6" font-size="13.600" fill="#606060">0</text>
<text x="32.5" y="889.900" font-size="13.400" text-anchor="middle" fill="#606060">Abr</text>
<text x="129.0" y="889.900" font-size="13.400" text-anchor="middle" fill="#606060">Jul</text>
<text x="230.5" y="889.900" font-size="13.400" text-anchor="middle" fill="#606060">Out</text>
<text x="329.4" y="889.900" font-size="13.400" text-anchor="middle" fill="#606060" font-weight="bold">2015</text>
<text x="426.5" y="889.900" font-size="13.400" text-anchor="middle" fill="#606060">Abr</text>
<text x="523.0" y="889.900" font-size="13.400" text-anchor="middle" fill="#606060">Jul</text>
<text x="624.4" y="889.900" font-size="13.400" text-anchor="middle" fill="#606060">Out</text>
<text x="725.6" y="889.900" font-size="13.400" text-anchor="middle" fill="#606060" font-weight="bold">2016</text>
<text x="820.5" y="889.900" font-size="13.400" text-anchor="middle" fill="#606060">Abr</text>
<rect x="906.300" y="647.800" width="54.600" height="19.500" fill="#1496ff"/>
<path d="M908 656.400h2.500" stroke="#fff" stroke-width="1.300"/>
<text x="915.200" y="662.400" font-size="13.400" fill="#fff" stroke="#fff" stroke-width="0.350">0.0306</text>
<g fill="none" stroke="#787878" stroke-width="1.500"><path d="M610.600 9.100V15.500M610.600 29V32.500M620 7.400V32.500"/><rect x="608.350" y="15.950" width="4.500" height="12.600" fill="#fff" stroke-width="1.300"/></g><rect x="617" y="11.400" width="6.100" height="15" fill="#787878"/>
<path d="M657.200 23.900L662.700 19L665.300 23.700L671.500 17.600H675L679.700 13.100V28.100H657.200z" fill="#c3e5f3"/><path d="M656.900 24.200L662.700 19L665.300 23.700L671.500 17.600H675L679.700 13.100" fill="none" stroke="#4fbae8" stroke-width="2.100" stroke-linejoin="round"/>
<path d="M715.900 11.400V31.600M715.900 15H720.800M711 27.200H715.900M727.200 9.100V28.100M722.400 18.500H727.200M727.200 25.500H732.100" fill="none" stroke="#787878" stroke-width="2.100"/>
<path d="M563.200 17.200h10.600l-5.300 5.600zM756.300 17.200h10.600l-5.300 5.600zM901.400 17h9.400l-4.700 5.500z" fill="#8c8c8c"/>
<path d="M818.600 14.200h4.300l1.400-3.700h8.200l1.400 3.700h4.300a2.400 2.400 0 0 1 2.400 2.400v10.800a2.400 2.400 0 0 1-2.400 2.400h-19.600a2.400 2.400 0 0 1-2.400-2.400v-10.800a2.400 2.400 0 0 1 2.400-2.400z" fill="#7a7a7a"/><circle cx="828.400" cy="21.500" r="5.700" fill="#fff"/><circle cx="828.400" cy="21.500" r="3.100" fill="#7a7a7a"/>
<rect x="874.300" y="9.600" width="19.700" height="19.500" fill="#e5e5e5" stroke="#8a8a8a" stroke-width="1.400"/>
<path d="M934.5 9.3h6.6l-6.6 6.6z" fill="#808080"/><path d="M937.0 11.8L941.7 16.1" stroke="#808080" stroke-width="2.400" fill="none"/><path d="M956.7 9.3h-6.6l6.6 6.6z" fill="#808080"/><path d="M954.2 11.8L949.5 16.1" stroke="#808080" stroke-width="2.400" fill="none"/><path d="M934.5 30.6h6.6l-6.6 -6.6z" fill="#808080"/><path d="M937.0 28.1L941.7 23.8" stroke="#808080" stroke-width="2.400" fill="none"/><path d="M956.7 30.6h-6.6l6.6 -6.6z" fill="#808080"/><path d="M954.2 28.1L949.5 23.8" stroke="#808080" stroke-width="2.400" fill="none"/>
<circle cx="129.200" cy="117.200" r="14.200" fill="#ffd500"/>
<rect x="12.700" y="102.800" width="15.200" height="15.200" rx="2.200" fill="#fff" stroke="#777" stroke-width="1.300"/><path d="M15.500 110.400h9.600" stroke="#666" stroke-width="1.300"/>
<text x="37" y="118.400" font-size="19.800" fill="#484848" stroke="#484848" stroke-width="0.250" textLength="455" lengthAdjust="spacingAndGlyphs">Banco Comercial Português, Portugal, D, Lisboa</text>
<path d="M498.300 110h10l-5 5z" fill="#c4c4c4"/>
<rect x="521.2" y="102.1" width="17" height="17" fill="#b4b4b4" fill-opacity="0.420"/><ellipse cx="529.7" cy="110.6" rx="6.500" ry="5.400" fill="#fff"/><circle cx="529.7" cy="110.6" r="3.300" fill="none" stroke="#dcdcdc" stroke-width="1.400"/><circle cx="529.7" cy="110.6" r="1.200" fill="#fff"/>
<rect x="542" y="102.1" width="17" height="17" fill="#b4b4b4" fill-opacity="0.420"/><g transform="translate(550.5 110.6)" fill="#fff"><rect x="-1.500" y="-6.200" width="3" height="12.400" transform="rotate(0)"/><rect x="-1.500" y="-6.200" width="3" height="12.400" transform="rotate(45)"/><rect x="-1.500" y="-6.200" width="3" height="12.400" transform="rotate(90)"/><rect x="-1.500" y="-6.200" width="3" height="12.400" transform="rotate(135)"/><circle r="4.500"/></g><circle cx="550.5" cy="110.6" r="2.500" fill="#dedede"/>
<text y="143.500" font-size="14.300" fill="#555"><tspan x="12">Abertura</tspan><tspan x="75" fill="#1e96ff">0.0315</tspan><tspan x="124">Máximo</tspan><tspan x="181.500" fill="#1e96ff">0.0320</tspan><tspan x="232">Mínimo</tspan><tspan x="286" fill="#1e96ff">0.0301</tspan><tspan x="336">Fechar</tspan><tspan x="388" fill="#1e96ff">0.0306</tspan></text>
<circle cx="825" cy="112" r="4.800" fill="#2e8b57"/><text x="834.800" y="116.500" font-size="14.300" fill="#2e8b57">tempo real</text>
<rect x="860" y="121" width="17.500" height="17" fill="#b4b4b4" fill-opacity="0.420"/><rect x="881" y="121" width="17.500" height="17" fill="#b4b4b4" fill-opacity="0.420"/>
<path d="M868.700 124v9M865.700 131l3 3.500 3-3.500z" stroke="#fff" stroke-width="1.600" fill="#fff"/>
<path d="M889.700 126v8M886.700 127l3-3.500 3 3.500zM886.700 132l3 3.500 3-3.500z" stroke="#fff" stroke-width="1.400" fill="#fff"/>
<text y="715.600" font-size="14.400" fill="#555"><tspan x="12">Volume (true, 20)</tspan><tspan x="220.500" fill="#c0392b">2.052B</tspan><tspan x="273" fill="#333">361M</tspan></text>
<path d="M128 708.500h9l-4.500 4.500z" fill="#c8c8c8"/>
<rect x="151.3" y="701.3" width="17" height="17" fill="#b4b4b4" fill-opacity="0.420"/><ellipse cx="159.8" cy="709.8" rx="6.500" ry="5.400" fill="#fff"/><circle cx="159.8" cy="709.8" r="3.300" fill="none" stroke="#dcdcdc" stroke-width="1.400"/><circle cx="159.8" cy="709.8" r="1.200" fill="#fff"/>
<rect x="172.3" y="701.3" width="17" height="17" fill="#b4b4b4" fill-opacity="0.420"/><g transform="translate(180.8 709.8)" fill="#fff"><rect x="-1.500" y="-6.200" width="3" height="12.400" transform="rotate(0)"/><rect x="-1.500" y="-6.200" width="3" height="12.400" transform="rotate(45)"/><rect x="-1.500" y="-6.200" width="3" height="12.400" transform="rotate(90)"/><rect x="-1.500" y="-6.200" width="3" height="12.400" transform="rotate(135)"/><circle r="4.500"/></g><circle cx="180.8" cy="709.8" r="2.500" fill="#dedede"/>
<rect x="193.3" y="701.3" width="17" height="17" fill="#b4b4b4" fill-opacity="0.420"/><path d="M196.8 704.8l10 10M206.8 704.8l-10 10" stroke="#fff" stroke-width="2.200"/>
<circle cx="879" cy="623.300" r="9.700" fill="#1e96ff"/><text x="879" y="628" font-size="12.500" font-weight="bold" fill="#fff" text-anchor="middle">P</text>
<path d="M128.700 113.100C130.500 114 132 116 132.600 118.500C133.200 121.500 131 122.600 127.200 121.600" fill="none" stroke="#2a2a20" stroke-width="1.800" stroke-linecap="round"/>
<path d="M884 585.700 C867 582 841 577.500 819.200 575.600 C817.500 590 815.500 610 813.500 625 C811 645 806 662 801 676.500 C799.500 680 802 681.500 806 682.500 C825 687 850 688.600 883 688 C920 687.300 960 684.500 988 682.500 C1000 681.500 1008 681 1008.500 678 C1009 665 1010 655 1013 648 C1016 642 1018 638 1018.500 630 C1019.500 615 1022 603 1024 591.500 C1000 591.500 950 592.500 918 590.300 C890 588.500 870 588 854 588" fill="none" stroke="#f51212" stroke-width="2.200" stroke-linecap="round" stroke-linejoin="round"/>
<path d="M944 697.700 C932 694 922 690.500 911 688 C900 687 890 688 880 690.500 C862 695 846 703 839 712 C835 718 835.500 723 840 725.500 C850 729 875 730.500 906 733 C925 733.500 945 727 962 719.500 C975 713.500 982 708 980 702 C978 696 965 691.500 950 689 C935 687 920 686.500 905 687.500" fill="none" stroke="#f51212" stroke-width="2.200" stroke-linecap="round" stroke-linejoin="round"/>
<path d="M969.300 804 C950 805 925 808 908 811.500 C898 814 894.500 818 896.500 822.500 C899 828 910 832 925 835.500 C945 839.500 970 841 985 839.500 C995 838 1001 832 1001 824 C1001 817 997 811.500 990 810 C988 809.500 986 809.500 984.500 809.600" fill="none" stroke="#f51212" stroke-width="2.200" stroke-linecap="round" stroke-linejoin="round"/>
</svg>
</body></html>
